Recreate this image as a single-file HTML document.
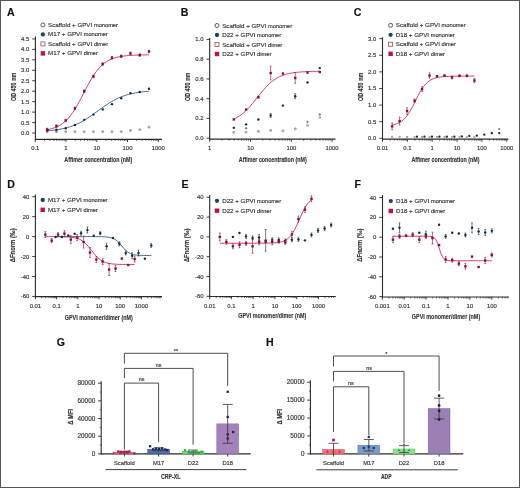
<!DOCTYPE html>
<html><head><meta charset="utf-8"><style>
html,body{margin:0;padding:0;background:#fff;}
body{width:520px;height:488px;overflow:hidden;font-family:"Liberation Sans", sans-serif;}
svg{display:block;will-change:transform;}
</style></head><body>
<svg width="520" height="488" viewBox="0 0 520 488" style="font-family:&quot;Liberation Sans&quot;, sans-serif">
<rect x="0" y="0" width="520" height="488" fill="#fff"/>
<line x1="35.40" y1="36.60" x2="35.40" y2="139.90" stroke="#2a2a2a" stroke-width="1.1"/>
<line x1="34.90" y1="139.40" x2="162.00" y2="139.40" stroke="#2a2a2a" stroke-width="1.2"/>
<line x1="32.20" y1="133.00" x2="35.40" y2="133.00" stroke="#2a2a2a" stroke-width="0.9"/>
<text x="29.20" y="135.00" font-size="5.9" text-anchor="end" font-weight="normal" fill="#333" stroke="#333" stroke-width="0.15" >0.0</text>
<line x1="32.20" y1="122.55" x2="35.40" y2="122.55" stroke="#2a2a2a" stroke-width="0.9"/>
<text x="29.20" y="124.55" font-size="5.9" text-anchor="end" font-weight="normal" fill="#333" stroke="#333" stroke-width="0.15" >0.5</text>
<line x1="32.20" y1="112.10" x2="35.40" y2="112.10" stroke="#2a2a2a" stroke-width="0.9"/>
<text x="29.20" y="114.10" font-size="5.9" text-anchor="end" font-weight="normal" fill="#333" stroke="#333" stroke-width="0.15" >1.0</text>
<line x1="32.20" y1="101.65" x2="35.40" y2="101.65" stroke="#2a2a2a" stroke-width="0.9"/>
<text x="29.20" y="103.65" font-size="5.9" text-anchor="end" font-weight="normal" fill="#333" stroke="#333" stroke-width="0.15" >1.5</text>
<line x1="32.20" y1="91.20" x2="35.40" y2="91.20" stroke="#2a2a2a" stroke-width="0.9"/>
<text x="29.20" y="93.20" font-size="5.9" text-anchor="end" font-weight="normal" fill="#333" stroke="#333" stroke-width="0.15" >2.0</text>
<line x1="32.20" y1="80.75" x2="35.40" y2="80.75" stroke="#2a2a2a" stroke-width="0.9"/>
<text x="29.20" y="82.75" font-size="5.9" text-anchor="end" font-weight="normal" fill="#333" stroke="#333" stroke-width="0.15" >2.5</text>
<line x1="32.20" y1="70.30" x2="35.40" y2="70.30" stroke="#2a2a2a" stroke-width="0.9"/>
<text x="29.20" y="72.30" font-size="5.9" text-anchor="end" font-weight="normal" fill="#333" stroke="#333" stroke-width="0.15" >3.0</text>
<line x1="32.20" y1="59.85" x2="35.40" y2="59.85" stroke="#2a2a2a" stroke-width="0.9"/>
<text x="29.20" y="61.85" font-size="5.9" text-anchor="end" font-weight="normal" fill="#333" stroke="#333" stroke-width="0.15" >3.5</text>
<line x1="32.20" y1="49.40" x2="35.40" y2="49.40" stroke="#2a2a2a" stroke-width="0.9"/>
<text x="29.20" y="51.40" font-size="5.9" text-anchor="end" font-weight="normal" fill="#333" stroke="#333" stroke-width="0.15" >4.0</text>
<line x1="32.20" y1="38.95" x2="35.40" y2="38.95" stroke="#2a2a2a" stroke-width="0.9"/>
<text x="29.20" y="40.95" font-size="5.9" text-anchor="end" font-weight="normal" fill="#333" stroke="#333" stroke-width="0.15" >4.5</text>
<line x1="35.25" y1="139.40" x2="35.25" y2="142.00" stroke="#2a2a2a" stroke-width="0.9"/>
<text x="35.25" y="150.30" font-size="5.9" text-anchor="middle" font-weight="normal" fill="#333" stroke="#333" stroke-width="0.15" >0.1</text>
<line x1="66.00" y1="139.40" x2="66.00" y2="142.00" stroke="#2a2a2a" stroke-width="0.9"/>
<text x="66.00" y="150.30" font-size="5.9" text-anchor="middle" font-weight="normal" fill="#333" stroke="#333" stroke-width="0.15" >1</text>
<line x1="96.75" y1="139.40" x2="96.75" y2="142.00" stroke="#2a2a2a" stroke-width="0.9"/>
<text x="96.75" y="150.30" font-size="5.9" text-anchor="middle" font-weight="normal" fill="#333" stroke="#333" stroke-width="0.15" >10</text>
<line x1="127.50" y1="139.40" x2="127.50" y2="142.00" stroke="#2a2a2a" stroke-width="0.9"/>
<text x="127.50" y="150.30" font-size="5.9" text-anchor="middle" font-weight="normal" fill="#333" stroke="#333" stroke-width="0.15" >100</text>
<line x1="158.25" y1="139.40" x2="158.25" y2="142.00" stroke="#2a2a2a" stroke-width="0.9"/>
<text x="158.25" y="150.30" font-size="5.9" text-anchor="middle" font-weight="normal" fill="#333" stroke="#333" stroke-width="0.15" >1000</text>
<line x1="44.51" y1="139.40" x2="44.51" y2="140.90" stroke="#2a2a2a" stroke-width="0.7"/>
<line x1="49.92" y1="139.40" x2="49.92" y2="140.90" stroke="#2a2a2a" stroke-width="0.7"/>
<line x1="53.76" y1="139.40" x2="53.76" y2="140.90" stroke="#2a2a2a" stroke-width="0.7"/>
<line x1="56.74" y1="139.40" x2="56.74" y2="140.90" stroke="#2a2a2a" stroke-width="0.7"/>
<line x1="59.18" y1="139.40" x2="59.18" y2="140.90" stroke="#2a2a2a" stroke-width="0.7"/>
<line x1="61.24" y1="139.40" x2="61.24" y2="140.90" stroke="#2a2a2a" stroke-width="0.7"/>
<line x1="63.02" y1="139.40" x2="63.02" y2="140.90" stroke="#2a2a2a" stroke-width="0.7"/>
<line x1="64.59" y1="139.40" x2="64.59" y2="140.90" stroke="#2a2a2a" stroke-width="0.7"/>
<line x1="75.26" y1="139.40" x2="75.26" y2="140.90" stroke="#2a2a2a" stroke-width="0.7"/>
<line x1="80.67" y1="139.40" x2="80.67" y2="140.90" stroke="#2a2a2a" stroke-width="0.7"/>
<line x1="84.51" y1="139.40" x2="84.51" y2="140.90" stroke="#2a2a2a" stroke-width="0.7"/>
<line x1="87.49" y1="139.40" x2="87.49" y2="140.90" stroke="#2a2a2a" stroke-width="0.7"/>
<line x1="89.93" y1="139.40" x2="89.93" y2="140.90" stroke="#2a2a2a" stroke-width="0.7"/>
<line x1="91.99" y1="139.40" x2="91.99" y2="140.90" stroke="#2a2a2a" stroke-width="0.7"/>
<line x1="93.77" y1="139.40" x2="93.77" y2="140.90" stroke="#2a2a2a" stroke-width="0.7"/>
<line x1="95.34" y1="139.40" x2="95.34" y2="140.90" stroke="#2a2a2a" stroke-width="0.7"/>
<line x1="106.01" y1="139.40" x2="106.01" y2="140.90" stroke="#2a2a2a" stroke-width="0.7"/>
<line x1="111.42" y1="139.40" x2="111.42" y2="140.90" stroke="#2a2a2a" stroke-width="0.7"/>
<line x1="115.26" y1="139.40" x2="115.26" y2="140.90" stroke="#2a2a2a" stroke-width="0.7"/>
<line x1="118.24" y1="139.40" x2="118.24" y2="140.90" stroke="#2a2a2a" stroke-width="0.7"/>
<line x1="120.68" y1="139.40" x2="120.68" y2="140.90" stroke="#2a2a2a" stroke-width="0.7"/>
<line x1="122.74" y1="139.40" x2="122.74" y2="140.90" stroke="#2a2a2a" stroke-width="0.7"/>
<line x1="124.52" y1="139.40" x2="124.52" y2="140.90" stroke="#2a2a2a" stroke-width="0.7"/>
<line x1="126.09" y1="139.40" x2="126.09" y2="140.90" stroke="#2a2a2a" stroke-width="0.7"/>
<line x1="136.76" y1="139.40" x2="136.76" y2="140.90" stroke="#2a2a2a" stroke-width="0.7"/>
<line x1="142.17" y1="139.40" x2="142.17" y2="140.90" stroke="#2a2a2a" stroke-width="0.7"/>
<line x1="146.01" y1="139.40" x2="146.01" y2="140.90" stroke="#2a2a2a" stroke-width="0.7"/>
<line x1="148.99" y1="139.40" x2="148.99" y2="140.90" stroke="#2a2a2a" stroke-width="0.7"/>
<line x1="151.43" y1="139.40" x2="151.43" y2="140.90" stroke="#2a2a2a" stroke-width="0.7"/>
<line x1="153.49" y1="139.40" x2="153.49" y2="140.90" stroke="#2a2a2a" stroke-width="0.7"/>
<line x1="155.27" y1="139.40" x2="155.27" y2="140.90" stroke="#2a2a2a" stroke-width="0.7"/>
<line x1="156.84" y1="139.40" x2="156.84" y2="140.90" stroke="#2a2a2a" stroke-width="0.7"/>
<circle cx="47.16" cy="131.75" r="1.40" fill="#bf97a6"/>
<circle cx="56.42" cy="131.75" r="1.40" fill="#bf97a6"/>
<circle cx="65.68" cy="131.75" r="1.40" fill="#bf97a6"/>
<circle cx="74.93" cy="131.75" r="1.40" fill="#bf97a6"/>
<circle cx="84.19" cy="131.75" r="1.40" fill="#bf97a6"/>
<circle cx="93.45" cy="131.75" r="1.40" fill="#bf97a6"/>
<circle cx="102.70" cy="131.75" r="1.40" fill="#bf97a6"/>
<circle cx="111.96" cy="131.75" r="1.40" fill="#bf97a6"/>
<circle cx="121.22" cy="131.54" r="1.40" fill="#bf97a6"/>
<circle cx="130.47" cy="130.49" r="1.40" fill="#bf97a6"/>
<circle cx="139.73" cy="129.66" r="1.40" fill="#bf97a6"/>
<circle cx="148.99" cy="127.15" r="1.40" fill="#bf97a6"/>
<circle cx="47.16" cy="131.33" r="0.60" fill="#fff" stroke="#3f5f82" stroke-width="1.0"/>
<circle cx="56.42" cy="130.91" r="0.60" fill="#fff" stroke="#3f5f82" stroke-width="1.0"/>
<path d="M47.16 129.74 L48.86 129.40 L50.56 129.00 L52.25 128.53 L53.95 127.99 L55.65 127.35 L57.34 126.60 L59.04 125.74 L60.74 124.74 L62.44 123.59 L64.13 122.28 L65.83 120.78 L67.53 119.08 L69.22 117.18 L70.92 115.06 L72.62 112.72 L74.32 110.18 L76.01 107.43 L77.71 104.50 L79.41 101.42 L81.10 98.22 L82.80 94.95 L84.50 91.66 L86.19 88.39 L87.89 85.18 L89.59 82.09 L91.29 79.15 L92.98 76.38 L94.68 73.82 L96.38 71.46 L98.07 69.33 L99.77 67.40 L101.47 65.69 L103.17 64.18 L104.86 62.84 L106.56 61.68 L108.26 60.67 L109.95 59.79 L111.65 59.04 L113.35 58.39 L115.04 57.84 L116.74 57.37 L118.44 56.96 L120.14 56.62 L121.83 56.33 L123.53 56.08 L125.23 55.87 L126.92 55.69 L128.62 55.54 L130.32 55.42 L132.02 55.31 L133.71 55.22 L135.41 55.14 L137.11 55.08 L138.80 55.02 L140.50 54.98 L142.20 54.94 L143.89 54.90 L145.59 54.88 L147.29 54.85 L148.99 54.83" fill="none" stroke="#c41f48" stroke-width="0.85"/>
<path d="M47.16 130.79 L48.86 130.65 L50.56 130.49 L52.25 130.31 L53.95 130.11 L55.65 129.89 L57.34 129.64 L59.04 129.37 L60.74 129.06 L62.44 128.72 L64.13 128.35 L65.83 127.93 L67.53 127.48 L69.22 126.98 L70.92 126.43 L72.62 125.83 L74.32 125.18 L76.01 124.47 L77.71 123.71 L79.41 122.89 L81.10 122.02 L82.80 121.08 L84.50 120.10 L86.19 119.05 L87.89 117.97 L89.59 116.83 L91.29 115.66 L92.98 114.46 L94.68 113.23 L96.38 111.99 L98.07 110.75 L99.77 109.50 L101.47 108.27 L103.17 107.05 L104.86 105.86 L106.56 104.71 L108.26 103.60 L109.95 102.53 L111.65 101.52 L113.35 100.56 L115.04 99.65 L116.74 98.80 L118.44 98.01 L120.14 97.28 L121.83 96.60 L123.53 95.98 L125.23 95.40 L126.92 94.88 L128.62 94.40 L130.32 93.97 L132.02 93.57 L133.71 93.22 L135.41 92.89 L137.11 92.60 L138.80 92.34 L140.50 92.11 L142.20 91.90 L143.89 91.71 L145.59 91.54 L147.29 91.39 L148.99 91.25" fill="none" stroke="#2a5070" stroke-width="0.85"/>
<circle cx="47.16" cy="130.35" r="1.20" fill="#142a42"/>
<circle cx="56.42" cy="129.66" r="1.20" fill="#142a42"/>
<circle cx="65.68" cy="128.19" r="1.20" fill="#142a42"/>
<circle cx="74.93" cy="125.06" r="1.20" fill="#142a42"/>
<circle cx="84.19" cy="119.83" r="1.20" fill="#142a42"/>
<circle cx="93.45" cy="114.61" r="1.20" fill="#142a42"/>
<circle cx="102.70" cy="109.38" r="1.20" fill="#142a42"/>
<circle cx="111.96" cy="104.16" r="1.20" fill="#142a42"/>
<circle cx="121.22" cy="98.31" r="1.20" fill="#142a42"/>
<circle cx="130.47" cy="93.08" r="1.20" fill="#142a42"/>
<circle cx="139.73" cy="92.04" r="1.20" fill="#142a42"/>
<circle cx="148.99" cy="88.69" r="1.20" fill="#142a42"/>
<line x1="47.16" y1="130.70" x2="47.16" y2="128.19" stroke="#8c0f32" stroke-width="0.6"/>
<line x1="46.26" y1="128.19" x2="48.06" y2="128.19" stroke="#8c0f32" stroke-width="0.6"/>
<line x1="46.26" y1="130.70" x2="48.06" y2="130.70" stroke="#8c0f32" stroke-width="0.6"/>
<rect x="45.96" y="128.25" width="2.40" height="2.40" fill="#8c0f32"/>
<line x1="56.42" y1="127.36" x2="56.42" y2="124.85" stroke="#8c0f32" stroke-width="0.6"/>
<line x1="55.52" y1="124.85" x2="57.32" y2="124.85" stroke="#8c0f32" stroke-width="0.6"/>
<line x1="55.52" y1="127.36" x2="57.32" y2="127.36" stroke="#8c0f32" stroke-width="0.6"/>
<rect x="55.22" y="124.90" width="2.40" height="2.40" fill="#8c0f32"/>
<line x1="65.68" y1="121.71" x2="65.68" y2="119.21" stroke="#8c0f32" stroke-width="0.6"/>
<line x1="64.78" y1="119.21" x2="66.58" y2="119.21" stroke="#8c0f32" stroke-width="0.6"/>
<line x1="64.78" y1="121.71" x2="66.58" y2="121.71" stroke="#8c0f32" stroke-width="0.6"/>
<rect x="64.48" y="119.26" width="2.40" height="2.40" fill="#8c0f32"/>
<line x1="74.93" y1="109.59" x2="74.93" y2="107.08" stroke="#8c0f32" stroke-width="0.6"/>
<line x1="74.03" y1="107.08" x2="75.83" y2="107.08" stroke="#8c0f32" stroke-width="0.6"/>
<line x1="74.03" y1="109.59" x2="75.83" y2="109.59" stroke="#8c0f32" stroke-width="0.6"/>
<rect x="73.73" y="107.14" width="2.40" height="2.40" fill="#8c0f32"/>
<line x1="84.19" y1="92.45" x2="84.19" y2="89.95" stroke="#8c0f32" stroke-width="0.6"/>
<line x1="83.29" y1="89.95" x2="85.09" y2="89.95" stroke="#8c0f32" stroke-width="0.6"/>
<line x1="83.29" y1="92.45" x2="85.09" y2="92.45" stroke="#8c0f32" stroke-width="0.6"/>
<rect x="82.99" y="90.00" width="2.40" height="2.40" fill="#8c0f32"/>
<line x1="93.45" y1="77.62" x2="93.45" y2="75.11" stroke="#8c0f32" stroke-width="0.6"/>
<line x1="92.55" y1="75.11" x2="94.35" y2="75.11" stroke="#8c0f32" stroke-width="0.6"/>
<line x1="92.55" y1="77.62" x2="94.35" y2="77.62" stroke="#8c0f32" stroke-width="0.6"/>
<rect x="92.25" y="75.16" width="2.40" height="2.40" fill="#8c0f32"/>
<line x1="102.70" y1="65.28" x2="102.70" y2="62.78" stroke="#8c0f32" stroke-width="0.6"/>
<line x1="101.80" y1="62.78" x2="103.60" y2="62.78" stroke="#8c0f32" stroke-width="0.6"/>
<line x1="101.80" y1="65.28" x2="103.60" y2="65.28" stroke="#8c0f32" stroke-width="0.6"/>
<rect x="101.50" y="62.83" width="2.40" height="2.40" fill="#8c0f32"/>
<line x1="111.96" y1="59.01" x2="111.96" y2="56.51" stroke="#8c0f32" stroke-width="0.6"/>
<line x1="111.06" y1="56.51" x2="112.86" y2="56.51" stroke="#8c0f32" stroke-width="0.6"/>
<line x1="111.06" y1="59.01" x2="112.86" y2="59.01" stroke="#8c0f32" stroke-width="0.6"/>
<rect x="110.76" y="56.56" width="2.40" height="2.40" fill="#8c0f32"/>
<line x1="121.22" y1="57.55" x2="121.22" y2="55.04" stroke="#8c0f32" stroke-width="0.6"/>
<line x1="120.32" y1="55.04" x2="122.12" y2="55.04" stroke="#8c0f32" stroke-width="0.6"/>
<line x1="120.32" y1="57.55" x2="122.12" y2="57.55" stroke="#8c0f32" stroke-width="0.6"/>
<rect x="120.02" y="55.10" width="2.40" height="2.40" fill="#8c0f32"/>
<line x1="130.47" y1="54.62" x2="130.47" y2="52.12" stroke="#8c0f32" stroke-width="0.6"/>
<line x1="129.57" y1="52.12" x2="131.37" y2="52.12" stroke="#8c0f32" stroke-width="0.6"/>
<line x1="129.57" y1="54.62" x2="131.37" y2="54.62" stroke="#8c0f32" stroke-width="0.6"/>
<rect x="129.27" y="52.17" width="2.40" height="2.40" fill="#8c0f32"/>
<line x1="139.73" y1="56.30" x2="139.73" y2="53.79" stroke="#8c0f32" stroke-width="0.6"/>
<line x1="138.83" y1="53.79" x2="140.63" y2="53.79" stroke="#8c0f32" stroke-width="0.6"/>
<line x1="138.83" y1="56.30" x2="140.63" y2="56.30" stroke="#8c0f32" stroke-width="0.6"/>
<rect x="138.53" y="53.84" width="2.40" height="2.40" fill="#8c0f32"/>
<line x1="148.99" y1="52.74" x2="148.99" y2="50.24" stroke="#8c0f32" stroke-width="0.6"/>
<line x1="148.09" y1="50.24" x2="149.89" y2="50.24" stroke="#8c0f32" stroke-width="0.6"/>
<line x1="148.09" y1="52.74" x2="149.89" y2="52.74" stroke="#8c0f32" stroke-width="0.6"/>
<rect x="147.79" y="50.29" width="2.40" height="2.40" fill="#8c0f32"/>
<circle cx="42.90" cy="24.90" r="2.00" fill="#fff" stroke="#3f5f82" stroke-width="1.0"/>
<text x="48.10" y="26.90" font-size="6.2" fill="#333" stroke="#333" stroke-width="0.15">Scaffold + GPVI <tspan font-size="5.7">monomer</tspan></text>
<circle cx="42.90" cy="34.40" r="2.15" fill="#1d4266"/>
<text x="48.10" y="36.40" font-size="6.2" fill="#333" stroke="#333" stroke-width="0.15">M17 + GPVI <tspan font-size="5.7">monomer</tspan></text>
<rect x="40.90" y="41.90" width="4.00" height="4.00" fill="#fff" stroke="#a85c66" stroke-width="0.9"/>
<text x="48.10" y="45.90" font-size="6.2" fill="#333" stroke="#333" stroke-width="0.15">Scaffold + GPVI <tspan font-size="5.7">dimer</tspan></text>
<rect x="40.70" y="51.20" width="4.40" height="4.40" fill="#c4103c"/>
<text x="48.10" y="55.40" font-size="6.2" fill="#333" stroke="#333" stroke-width="0.15">M17 + GPVI <tspan font-size="5.7">dimer</tspan></text>
<text x="6.90" y="15.60" font-size="10.6" text-anchor="start" font-weight="bold" fill="#111" stroke="#111" stroke-width="0.15" >A</text>
<text x="64.30" y="162.00" font-size="7.7" text-anchor="start" font-weight="bold" fill="#333" stroke="#333" stroke-width="0.15" textLength="68" lengthAdjust="spacingAndGlyphs" >Affimer concentration (nM)</text>
<text transform="translate(15.90,86.90) rotate(-90)" x="0" y="0" font-size="7.9" text-anchor="middle" font-weight="bold" fill="#333" stroke="#333" stroke-width="0.15" textLength="28.4" lengthAdjust="spacingAndGlyphs">OD 450 nm</text>
<line x1="209.70" y1="38.00" x2="209.70" y2="139.70" stroke="#2a2a2a" stroke-width="1.1"/>
<line x1="209.20" y1="139.20" x2="335.50" y2="139.20" stroke="#2a2a2a" stroke-width="1.2"/>
<line x1="206.50" y1="138.20" x2="209.70" y2="138.20" stroke="#2a2a2a" stroke-width="0.9"/>
<text x="203.50" y="140.20" font-size="5.9" text-anchor="end" font-weight="normal" fill="#333" stroke="#333" stroke-width="0.15" >0.0</text>
<line x1="206.50" y1="118.45" x2="209.70" y2="118.45" stroke="#2a2a2a" stroke-width="0.9"/>
<text x="203.50" y="120.45" font-size="5.9" text-anchor="end" font-weight="normal" fill="#333" stroke="#333" stroke-width="0.15" >0.2</text>
<line x1="206.50" y1="98.70" x2="209.70" y2="98.70" stroke="#2a2a2a" stroke-width="0.9"/>
<text x="203.50" y="100.70" font-size="5.9" text-anchor="end" font-weight="normal" fill="#333" stroke="#333" stroke-width="0.15" >0.4</text>
<line x1="206.50" y1="78.95" x2="209.70" y2="78.95" stroke="#2a2a2a" stroke-width="0.9"/>
<text x="203.50" y="80.95" font-size="5.9" text-anchor="end" font-weight="normal" fill="#333" stroke="#333" stroke-width="0.15" >0.6</text>
<line x1="206.50" y1="59.20" x2="209.70" y2="59.20" stroke="#2a2a2a" stroke-width="0.9"/>
<text x="203.50" y="61.20" font-size="5.9" text-anchor="end" font-weight="normal" fill="#333" stroke="#333" stroke-width="0.15" >0.8</text>
<line x1="206.50" y1="39.45" x2="209.70" y2="39.45" stroke="#2a2a2a" stroke-width="0.9"/>
<text x="203.50" y="41.45" font-size="5.9" text-anchor="end" font-weight="normal" fill="#333" stroke="#333" stroke-width="0.15" >1.0</text>
<line x1="209.70" y1="139.20" x2="209.70" y2="141.80" stroke="#2a2a2a" stroke-width="0.9"/>
<text x="209.70" y="150.30" font-size="5.9" text-anchor="middle" font-weight="normal" fill="#333" stroke="#333" stroke-width="0.15" >1</text>
<line x1="250.50" y1="139.20" x2="250.50" y2="141.80" stroke="#2a2a2a" stroke-width="0.9"/>
<text x="250.50" y="150.30" font-size="5.9" text-anchor="middle" font-weight="normal" fill="#333" stroke="#333" stroke-width="0.15" >10</text>
<line x1="291.30" y1="139.20" x2="291.30" y2="141.80" stroke="#2a2a2a" stroke-width="0.9"/>
<text x="291.30" y="150.30" font-size="5.9" text-anchor="middle" font-weight="normal" fill="#333" stroke="#333" stroke-width="0.15" >100</text>
<line x1="332.10" y1="139.20" x2="332.10" y2="141.80" stroke="#2a2a2a" stroke-width="0.9"/>
<text x="332.10" y="150.30" font-size="5.9" text-anchor="middle" font-weight="normal" fill="#333" stroke="#333" stroke-width="0.15" >1000</text>
<line x1="221.98" y1="139.20" x2="221.98" y2="140.70" stroke="#2a2a2a" stroke-width="0.7"/>
<line x1="229.17" y1="139.20" x2="229.17" y2="140.70" stroke="#2a2a2a" stroke-width="0.7"/>
<line x1="234.26" y1="139.20" x2="234.26" y2="140.70" stroke="#2a2a2a" stroke-width="0.7"/>
<line x1="238.22" y1="139.20" x2="238.22" y2="140.70" stroke="#2a2a2a" stroke-width="0.7"/>
<line x1="241.45" y1="139.20" x2="241.45" y2="140.70" stroke="#2a2a2a" stroke-width="0.7"/>
<line x1="244.18" y1="139.20" x2="244.18" y2="140.70" stroke="#2a2a2a" stroke-width="0.7"/>
<line x1="246.55" y1="139.20" x2="246.55" y2="140.70" stroke="#2a2a2a" stroke-width="0.7"/>
<line x1="248.63" y1="139.20" x2="248.63" y2="140.70" stroke="#2a2a2a" stroke-width="0.7"/>
<line x1="262.78" y1="139.20" x2="262.78" y2="140.70" stroke="#2a2a2a" stroke-width="0.7"/>
<line x1="269.97" y1="139.20" x2="269.97" y2="140.70" stroke="#2a2a2a" stroke-width="0.7"/>
<line x1="275.06" y1="139.20" x2="275.06" y2="140.70" stroke="#2a2a2a" stroke-width="0.7"/>
<line x1="279.02" y1="139.20" x2="279.02" y2="140.70" stroke="#2a2a2a" stroke-width="0.7"/>
<line x1="282.25" y1="139.20" x2="282.25" y2="140.70" stroke="#2a2a2a" stroke-width="0.7"/>
<line x1="284.98" y1="139.20" x2="284.98" y2="140.70" stroke="#2a2a2a" stroke-width="0.7"/>
<line x1="287.35" y1="139.20" x2="287.35" y2="140.70" stroke="#2a2a2a" stroke-width="0.7"/>
<line x1="289.43" y1="139.20" x2="289.43" y2="140.70" stroke="#2a2a2a" stroke-width="0.7"/>
<line x1="303.58" y1="139.20" x2="303.58" y2="140.70" stroke="#2a2a2a" stroke-width="0.7"/>
<line x1="310.77" y1="139.20" x2="310.77" y2="140.70" stroke="#2a2a2a" stroke-width="0.7"/>
<line x1="315.86" y1="139.20" x2="315.86" y2="140.70" stroke="#2a2a2a" stroke-width="0.7"/>
<line x1="319.82" y1="139.20" x2="319.82" y2="140.70" stroke="#2a2a2a" stroke-width="0.7"/>
<line x1="323.05" y1="139.20" x2="323.05" y2="140.70" stroke="#2a2a2a" stroke-width="0.7"/>
<line x1="325.78" y1="139.20" x2="325.78" y2="140.70" stroke="#2a2a2a" stroke-width="0.7"/>
<line x1="328.15" y1="139.20" x2="328.15" y2="140.70" stroke="#2a2a2a" stroke-width="0.7"/>
<line x1="330.23" y1="139.20" x2="330.23" y2="140.70" stroke="#2a2a2a" stroke-width="0.7"/>
<circle cx="233.82" cy="132.27" r="0.70" fill="#fff" stroke="#3f5f82" stroke-width="1.0"/>
<circle cx="246.10" cy="128.32" r="0.70" fill="#fff" stroke="#3f5f82" stroke-width="1.0"/>
<circle cx="258.38" cy="131.29" r="0.70" fill="#fff" stroke="#3f5f82" stroke-width="1.0"/>
<circle cx="270.66" cy="130.30" r="0.70" fill="#fff" stroke="#3f5f82" stroke-width="1.0"/>
<circle cx="282.94" cy="130.89" r="0.70" fill="#fff" stroke="#3f5f82" stroke-width="1.0"/>
<circle cx="295.23" cy="128.92" r="0.70" fill="#fff" stroke="#3f5f82" stroke-width="1.0"/>
<circle cx="307.51" cy="121.91" r="0.70" fill="#fff" stroke="#3f5f82" stroke-width="1.0"/>
<circle cx="319.79" cy="114.50" r="0.70" fill="#fff" stroke="#3f5f82" stroke-width="1.0"/>
<rect x="233.07" y="131.52" width="1.50" height="1.50" fill="#fff" stroke="#bf97a6" stroke-width="0.9"/>
<rect x="245.35" y="131.52" width="1.50" height="1.50" fill="#fff" stroke="#bf97a6" stroke-width="0.9"/>
<rect x="257.63" y="130.73" width="1.50" height="1.50" fill="#fff" stroke="#bf97a6" stroke-width="0.9"/>
<rect x="269.91" y="129.75" width="1.50" height="1.50" fill="#fff" stroke="#bf97a6" stroke-width="0.9"/>
<rect x="282.19" y="130.14" width="1.50" height="1.50" fill="#fff" stroke="#bf97a6" stroke-width="0.9"/>
<rect x="294.48" y="128.17" width="1.50" height="1.50" fill="#fff" stroke="#bf97a6" stroke-width="0.9"/>
<rect x="306.76" y="124.61" width="1.50" height="1.50" fill="#fff" stroke="#bf97a6" stroke-width="0.9"/>
<rect x="319.04" y="116.71" width="1.50" height="1.50" fill="#fff" stroke="#bf97a6" stroke-width="0.9"/>
<path d="M233.82 119.07 L235.25 118.39 L236.68 117.64 L238.11 116.80 L239.55 115.88 L240.98 114.87 L242.41 113.76 L243.85 112.56 L245.28 111.26 L246.71 109.88 L248.14 108.40 L249.58 106.84 L251.01 105.20 L252.44 103.50 L253.88 101.74 L255.31 99.96 L256.74 98.15 L258.17 96.33 L259.61 94.53 L261.04 92.76 L262.47 91.03 L263.91 89.36 L265.34 87.76 L266.77 86.24 L268.21 84.81 L269.64 83.47 L271.07 82.23 L272.50 81.07 L273.94 80.02 L275.37 79.05 L276.80 78.18 L278.24 77.39 L279.67 76.67 L281.10 76.03 L282.53 75.46 L283.97 74.95 L285.40 74.49 L286.83 74.09 L288.27 73.73 L289.70 73.42 L291.13 73.14 L292.56 72.89 L294.00 72.68 L295.43 72.48 L296.86 72.32 L298.30 72.17 L299.73 72.04 L301.16 71.93 L302.59 71.83 L304.03 71.75 L305.46 71.67 L306.89 71.60 L308.33 71.55 L309.76 71.50 L311.19 71.45 L312.63 71.41 L314.06 71.38 L315.49 71.35 L316.92 71.32 L318.36 71.30 L319.79 71.28" fill="none" stroke="#c41f48" stroke-width="0.85"/>
<circle cx="233.82" cy="127.83" r="1.20" fill="#142a42"/>
<circle cx="246.10" cy="124.37" r="1.20" fill="#142a42"/>
<circle cx="258.38" cy="119.44" r="1.20" fill="#142a42"/>
<line x1="270.66" y1="117.46" x2="270.66" y2="113.51" stroke="#142a42" stroke-width="0.6"/>
<line x1="269.76" y1="113.51" x2="271.56" y2="113.51" stroke="#142a42" stroke-width="0.6"/>
<line x1="269.76" y1="117.46" x2="271.56" y2="117.46" stroke="#142a42" stroke-width="0.6"/>
<circle cx="270.66" cy="115.49" r="1.20" fill="#142a42"/>
<circle cx="282.94" cy="105.61" r="1.20" fill="#142a42"/>
<line x1="295.23" y1="98.70" x2="295.23" y2="93.76" stroke="#142a42" stroke-width="0.6"/>
<line x1="294.33" y1="93.76" x2="296.13" y2="93.76" stroke="#142a42" stroke-width="0.6"/>
<line x1="294.33" y1="98.70" x2="296.13" y2="98.70" stroke="#142a42" stroke-width="0.6"/>
<circle cx="295.23" cy="96.23" r="1.20" fill="#142a42"/>
<circle cx="307.51" cy="82.41" r="1.20" fill="#142a42"/>
<circle cx="319.79" cy="68.09" r="1.20" fill="#142a42"/>
<rect x="232.62" y="118.24" width="2.40" height="2.40" fill="#8c0f32"/>
<rect x="244.90" y="108.36" width="2.40" height="2.40" fill="#8c0f32"/>
<line x1="258.38" y1="98.21" x2="258.38" y2="96.23" stroke="#8c0f32" stroke-width="0.6"/>
<line x1="257.48" y1="96.23" x2="259.28" y2="96.23" stroke="#8c0f32" stroke-width="0.6"/>
<line x1="257.48" y1="98.21" x2="259.28" y2="98.21" stroke="#8c0f32" stroke-width="0.6"/>
<rect x="257.18" y="96.02" width="2.40" height="2.40" fill="#8c0f32"/>
<line x1="270.66" y1="79.94" x2="270.66" y2="66.11" stroke="#8c0f32" stroke-width="0.6"/>
<line x1="269.76" y1="66.11" x2="271.56" y2="66.11" stroke="#8c0f32" stroke-width="0.6"/>
<line x1="269.76" y1="79.94" x2="271.56" y2="79.94" stroke="#8c0f32" stroke-width="0.6"/>
<rect x="269.46" y="71.82" width="2.40" height="2.40" fill="#8c0f32"/>
<rect x="281.74" y="72.32" width="2.40" height="2.40" fill="#8c0f32"/>
<line x1="295.23" y1="83.39" x2="295.23" y2="72.53" stroke="#8c0f32" stroke-width="0.6"/>
<line x1="294.33" y1="72.53" x2="296.13" y2="72.53" stroke="#8c0f32" stroke-width="0.6"/>
<line x1="294.33" y1="83.39" x2="296.13" y2="83.39" stroke="#8c0f32" stroke-width="0.6"/>
<rect x="294.03" y="76.76" width="2.40" height="2.40" fill="#8c0f32"/>
<rect x="306.31" y="71.33" width="2.40" height="2.40" fill="#8c0f32"/>
<rect x="318.59" y="70.84" width="2.40" height="2.40" fill="#8c0f32"/>
<circle cx="217.00" cy="25.50" r="2.00" fill="#fff" stroke="#3f5f82" stroke-width="1.0"/>
<text x="222.20" y="27.50" font-size="6.2" fill="#333" stroke="#333" stroke-width="0.15">Scaffold + GPVI <tspan font-size="5.7">monomer</tspan></text>
<circle cx="217.00" cy="35.00" r="2.15" fill="#1d4266"/>
<text x="222.20" y="37.00" font-size="6.2" fill="#333" stroke="#333" stroke-width="0.15">D22 + GPVI <tspan font-size="5.7">monomer</tspan></text>
<rect x="215.00" y="42.50" width="4.00" height="4.00" fill="#fff" stroke="#a85c66" stroke-width="0.9"/>
<text x="222.20" y="46.50" font-size="6.2" fill="#333" stroke="#333" stroke-width="0.15">Scaffold + GPVI <tspan font-size="5.7">dimer</tspan></text>
<rect x="214.80" y="51.80" width="4.40" height="4.40" fill="#c4103c"/>
<text x="222.20" y="56.00" font-size="6.2" fill="#333" stroke="#333" stroke-width="0.15">D22 + GPVI <tspan font-size="5.7">dimer</tspan></text>
<text x="180.80" y="15.60" font-size="10.6" text-anchor="start" font-weight="bold" fill="#111" stroke="#111" stroke-width="0.15" >B</text>
<text x="238.80" y="162.00" font-size="7.7" text-anchor="start" font-weight="bold" fill="#333" stroke="#333" stroke-width="0.15" textLength="68" lengthAdjust="spacingAndGlyphs" >Affimer concentration (nM)</text>
<text transform="translate(190.20,86.90) rotate(-90)" x="0" y="0" font-size="7.9" text-anchor="middle" font-weight="bold" fill="#333" stroke="#333" stroke-width="0.15" textLength="28.4" lengthAdjust="spacingAndGlyphs">OD 450 nm</text>
<line x1="382.50" y1="37.20" x2="382.50" y2="139.70" stroke="#2a2a2a" stroke-width="1.1"/>
<line x1="382.00" y1="139.20" x2="508.40" y2="139.20" stroke="#2a2a2a" stroke-width="1.2"/>
<line x1="379.30" y1="138.30" x2="382.50" y2="138.30" stroke="#2a2a2a" stroke-width="0.9"/>
<text x="376.30" y="140.30" font-size="5.9" text-anchor="end" font-weight="normal" fill="#333" stroke="#333" stroke-width="0.15" >0.0</text>
<line x1="379.30" y1="121.69" x2="382.50" y2="121.69" stroke="#2a2a2a" stroke-width="0.9"/>
<text x="376.30" y="123.69" font-size="5.9" text-anchor="end" font-weight="normal" fill="#333" stroke="#333" stroke-width="0.15" >0.5</text>
<line x1="379.30" y1="105.08" x2="382.50" y2="105.08" stroke="#2a2a2a" stroke-width="0.9"/>
<text x="376.30" y="107.08" font-size="5.9" text-anchor="end" font-weight="normal" fill="#333" stroke="#333" stroke-width="0.15" >1.0</text>
<line x1="379.30" y1="88.47" x2="382.50" y2="88.47" stroke="#2a2a2a" stroke-width="0.9"/>
<text x="376.30" y="90.47" font-size="5.9" text-anchor="end" font-weight="normal" fill="#333" stroke="#333" stroke-width="0.15" >1.5</text>
<line x1="379.30" y1="71.86" x2="382.50" y2="71.86" stroke="#2a2a2a" stroke-width="0.9"/>
<text x="376.30" y="73.86" font-size="5.9" text-anchor="end" font-weight="normal" fill="#333" stroke="#333" stroke-width="0.15" >2.0</text>
<line x1="379.30" y1="55.25" x2="382.50" y2="55.25" stroke="#2a2a2a" stroke-width="0.9"/>
<text x="376.30" y="57.25" font-size="5.9" text-anchor="end" font-weight="normal" fill="#333" stroke="#333" stroke-width="0.15" >2.5</text>
<line x1="379.30" y1="38.64" x2="382.50" y2="38.64" stroke="#2a2a2a" stroke-width="0.9"/>
<text x="376.30" y="40.64" font-size="5.9" text-anchor="end" font-weight="normal" fill="#333" stroke="#333" stroke-width="0.15" >3.0</text>
<line x1="382.50" y1="139.20" x2="382.50" y2="141.80" stroke="#2a2a2a" stroke-width="0.9"/>
<text x="382.50" y="150.30" font-size="5.9" text-anchor="middle" font-weight="normal" fill="#333" stroke="#333" stroke-width="0.15" >0.01</text>
<line x1="407.35" y1="139.20" x2="407.35" y2="141.80" stroke="#2a2a2a" stroke-width="0.9"/>
<text x="407.35" y="150.30" font-size="5.9" text-anchor="middle" font-weight="normal" fill="#333" stroke="#333" stroke-width="0.15" >0.1</text>
<line x1="432.20" y1="139.20" x2="432.20" y2="141.80" stroke="#2a2a2a" stroke-width="0.9"/>
<text x="432.20" y="150.30" font-size="5.9" text-anchor="middle" font-weight="normal" fill="#333" stroke="#333" stroke-width="0.15" >1</text>
<line x1="457.05" y1="139.20" x2="457.05" y2="141.80" stroke="#2a2a2a" stroke-width="0.9"/>
<text x="457.05" y="150.30" font-size="5.9" text-anchor="middle" font-weight="normal" fill="#333" stroke="#333" stroke-width="0.15" >10</text>
<line x1="481.90" y1="139.20" x2="481.90" y2="141.80" stroke="#2a2a2a" stroke-width="0.9"/>
<text x="481.90" y="150.30" font-size="5.9" text-anchor="middle" font-weight="normal" fill="#333" stroke="#333" stroke-width="0.15" >100</text>
<line x1="506.75" y1="139.20" x2="506.75" y2="141.80" stroke="#2a2a2a" stroke-width="0.9"/>
<text x="506.75" y="150.30" font-size="5.9" text-anchor="middle" font-weight="normal" fill="#333" stroke="#333" stroke-width="0.15" >1000</text>
<line x1="389.98" y1="139.20" x2="389.98" y2="140.70" stroke="#2a2a2a" stroke-width="0.7"/>
<line x1="394.36" y1="139.20" x2="394.36" y2="140.70" stroke="#2a2a2a" stroke-width="0.7"/>
<line x1="397.46" y1="139.20" x2="397.46" y2="140.70" stroke="#2a2a2a" stroke-width="0.7"/>
<line x1="399.87" y1="139.20" x2="399.87" y2="140.70" stroke="#2a2a2a" stroke-width="0.7"/>
<line x1="401.84" y1="139.20" x2="401.84" y2="140.70" stroke="#2a2a2a" stroke-width="0.7"/>
<line x1="403.50" y1="139.20" x2="403.50" y2="140.70" stroke="#2a2a2a" stroke-width="0.7"/>
<line x1="404.94" y1="139.20" x2="404.94" y2="140.70" stroke="#2a2a2a" stroke-width="0.7"/>
<line x1="406.21" y1="139.20" x2="406.21" y2="140.70" stroke="#2a2a2a" stroke-width="0.7"/>
<line x1="414.83" y1="139.20" x2="414.83" y2="140.70" stroke="#2a2a2a" stroke-width="0.7"/>
<line x1="419.21" y1="139.20" x2="419.21" y2="140.70" stroke="#2a2a2a" stroke-width="0.7"/>
<line x1="422.31" y1="139.20" x2="422.31" y2="140.70" stroke="#2a2a2a" stroke-width="0.7"/>
<line x1="424.72" y1="139.20" x2="424.72" y2="140.70" stroke="#2a2a2a" stroke-width="0.7"/>
<line x1="426.69" y1="139.20" x2="426.69" y2="140.70" stroke="#2a2a2a" stroke-width="0.7"/>
<line x1="428.35" y1="139.20" x2="428.35" y2="140.70" stroke="#2a2a2a" stroke-width="0.7"/>
<line x1="429.79" y1="139.20" x2="429.79" y2="140.70" stroke="#2a2a2a" stroke-width="0.7"/>
<line x1="431.06" y1="139.20" x2="431.06" y2="140.70" stroke="#2a2a2a" stroke-width="0.7"/>
<line x1="439.68" y1="139.20" x2="439.68" y2="140.70" stroke="#2a2a2a" stroke-width="0.7"/>
<line x1="444.06" y1="139.20" x2="444.06" y2="140.70" stroke="#2a2a2a" stroke-width="0.7"/>
<line x1="447.16" y1="139.20" x2="447.16" y2="140.70" stroke="#2a2a2a" stroke-width="0.7"/>
<line x1="449.57" y1="139.20" x2="449.57" y2="140.70" stroke="#2a2a2a" stroke-width="0.7"/>
<line x1="451.54" y1="139.20" x2="451.54" y2="140.70" stroke="#2a2a2a" stroke-width="0.7"/>
<line x1="453.20" y1="139.20" x2="453.20" y2="140.70" stroke="#2a2a2a" stroke-width="0.7"/>
<line x1="454.64" y1="139.20" x2="454.64" y2="140.70" stroke="#2a2a2a" stroke-width="0.7"/>
<line x1="455.91" y1="139.20" x2="455.91" y2="140.70" stroke="#2a2a2a" stroke-width="0.7"/>
<line x1="464.53" y1="139.20" x2="464.53" y2="140.70" stroke="#2a2a2a" stroke-width="0.7"/>
<line x1="468.91" y1="139.20" x2="468.91" y2="140.70" stroke="#2a2a2a" stroke-width="0.7"/>
<line x1="472.01" y1="139.20" x2="472.01" y2="140.70" stroke="#2a2a2a" stroke-width="0.7"/>
<line x1="474.42" y1="139.20" x2="474.42" y2="140.70" stroke="#2a2a2a" stroke-width="0.7"/>
<line x1="476.39" y1="139.20" x2="476.39" y2="140.70" stroke="#2a2a2a" stroke-width="0.7"/>
<line x1="478.05" y1="139.20" x2="478.05" y2="140.70" stroke="#2a2a2a" stroke-width="0.7"/>
<line x1="479.49" y1="139.20" x2="479.49" y2="140.70" stroke="#2a2a2a" stroke-width="0.7"/>
<line x1="480.76" y1="139.20" x2="480.76" y2="140.70" stroke="#2a2a2a" stroke-width="0.7"/>
<line x1="489.38" y1="139.20" x2="489.38" y2="140.70" stroke="#2a2a2a" stroke-width="0.7"/>
<line x1="493.76" y1="139.20" x2="493.76" y2="140.70" stroke="#2a2a2a" stroke-width="0.7"/>
<line x1="496.86" y1="139.20" x2="496.86" y2="140.70" stroke="#2a2a2a" stroke-width="0.7"/>
<line x1="499.27" y1="139.20" x2="499.27" y2="140.70" stroke="#2a2a2a" stroke-width="0.7"/>
<line x1="501.24" y1="139.20" x2="501.24" y2="140.70" stroke="#2a2a2a" stroke-width="0.7"/>
<line x1="502.90" y1="139.20" x2="502.90" y2="140.70" stroke="#2a2a2a" stroke-width="0.7"/>
<line x1="504.34" y1="139.20" x2="504.34" y2="140.70" stroke="#2a2a2a" stroke-width="0.7"/>
<line x1="505.61" y1="139.20" x2="505.61" y2="140.70" stroke="#2a2a2a" stroke-width="0.7"/>
<rect x="391.58" y="136.42" width="1.10" height="1.10" fill="#fff" stroke="#bf97a6" stroke-width="0.9"/>
<rect x="399.06" y="136.42" width="1.10" height="1.10" fill="#fff" stroke="#bf97a6" stroke-width="0.9"/>
<rect x="406.54" y="136.42" width="1.10" height="1.10" fill="#fff" stroke="#bf97a6" stroke-width="0.9"/>
<rect x="414.02" y="136.42" width="1.10" height="1.10" fill="#fff" stroke="#bf97a6" stroke-width="0.9"/>
<rect x="421.50" y="136.42" width="1.10" height="1.10" fill="#fff" stroke="#bf97a6" stroke-width="0.9"/>
<rect x="428.98" y="136.42" width="1.10" height="1.10" fill="#fff" stroke="#bf97a6" stroke-width="0.9"/>
<rect x="436.46" y="136.42" width="1.10" height="1.10" fill="#fff" stroke="#bf97a6" stroke-width="0.9"/>
<rect x="443.94" y="136.42" width="1.10" height="1.10" fill="#fff" stroke="#bf97a6" stroke-width="0.9"/>
<rect x="451.42" y="136.42" width="1.10" height="1.10" fill="#fff" stroke="#bf97a6" stroke-width="0.9"/>
<rect x="458.90" y="136.42" width="1.10" height="1.10" fill="#fff" stroke="#bf97a6" stroke-width="0.9"/>
<rect x="466.38" y="136.42" width="1.10" height="1.10" fill="#fff" stroke="#bf97a6" stroke-width="0.9"/>
<rect x="473.86" y="136.42" width="1.10" height="1.10" fill="#fff" stroke="#bf97a6" stroke-width="0.9"/>
<circle cx="499.26" cy="129.00" r="0.60" fill="#fff" stroke="#3f5f82" stroke-width="1.0"/>
<circle cx="491.78" cy="132.65" r="0.60" fill="#fff" stroke="#3f5f82" stroke-width="1.0"/>
<path d="M392.13 124.88 L393.50 124.61 L394.87 124.27 L396.24 123.86 L397.61 123.35 L398.98 122.73 L400.36 121.98 L401.73 121.08 L403.10 120.00 L404.47 118.72 L405.84 117.22 L407.21 115.50 L408.58 113.53 L409.96 111.34 L411.33 108.93 L412.70 106.36 L414.07 103.66 L415.44 100.89 L416.81 98.13 L418.18 95.44 L419.56 92.88 L420.93 90.50 L422.30 88.34 L423.67 86.40 L425.04 84.70 L426.41 83.23 L427.78 81.98 L429.16 80.92 L430.53 80.04 L431.90 79.31 L433.27 78.70 L434.64 78.21 L436.01 77.80 L437.38 77.48 L438.76 77.21 L440.13 77.00 L441.50 76.82 L442.87 76.68 L444.24 76.57 L445.61 76.48 L446.98 76.41 L448.36 76.35 L449.73 76.30 L451.10 76.26 L452.47 76.23 L453.84 76.21 L455.21 76.19 L456.58 76.17 L457.96 76.16 L459.33 76.15 L460.70 76.14 L462.07 76.14 L463.44 76.13 L464.81 76.13 L466.18 76.13 L467.56 76.12 L468.93 76.12 L470.30 76.12 L471.67 76.12 L473.04 76.12 L474.41 76.12" fill="none" stroke="#c41f48" stroke-width="0.85"/>
<circle cx="416.98" cy="136.64" r="1.15" fill="#142a42"/>
<circle cx="424.46" cy="136.64" r="1.15" fill="#142a42"/>
<circle cx="431.94" cy="136.64" r="1.15" fill="#142a42"/>
<circle cx="439.42" cy="136.64" r="1.15" fill="#142a42"/>
<circle cx="446.90" cy="136.64" r="1.15" fill="#142a42"/>
<circle cx="454.38" cy="136.64" r="1.15" fill="#142a42"/>
<circle cx="461.86" cy="136.47" r="1.15" fill="#142a42"/>
<circle cx="469.34" cy="135.97" r="1.15" fill="#142a42"/>
<circle cx="476.82" cy="135.64" r="1.15" fill="#142a42"/>
<circle cx="484.30" cy="134.65" r="1.15" fill="#142a42"/>
<circle cx="491.78" cy="133.32" r="1.15" fill="#142a42"/>
<circle cx="499.26" cy="133.15" r="1.15" fill="#142a42"/>
<line x1="392.13" y1="129.66" x2="392.13" y2="123.02" stroke="#8c0f32" stroke-width="0.6"/>
<line x1="391.23" y1="123.02" x2="393.03" y2="123.02" stroke="#8c0f32" stroke-width="0.6"/>
<line x1="391.23" y1="129.66" x2="393.03" y2="129.66" stroke="#8c0f32" stroke-width="0.6"/>
<rect x="390.93" y="125.14" width="2.40" height="2.40" fill="#8c0f32"/>
<line x1="399.61" y1="125.01" x2="399.61" y2="117.04" stroke="#8c0f32" stroke-width="0.6"/>
<line x1="398.71" y1="117.04" x2="400.51" y2="117.04" stroke="#8c0f32" stroke-width="0.6"/>
<line x1="398.71" y1="125.01" x2="400.51" y2="125.01" stroke="#8c0f32" stroke-width="0.6"/>
<rect x="398.41" y="119.83" width="2.40" height="2.40" fill="#8c0f32"/>
<line x1="407.09" y1="114.38" x2="407.09" y2="107.74" stroke="#8c0f32" stroke-width="0.6"/>
<line x1="406.19" y1="107.74" x2="407.99" y2="107.74" stroke="#8c0f32" stroke-width="0.6"/>
<line x1="406.19" y1="114.38" x2="407.99" y2="114.38" stroke="#8c0f32" stroke-width="0.6"/>
<rect x="405.89" y="109.86" width="2.40" height="2.40" fill="#8c0f32"/>
<line x1="414.57" y1="102.42" x2="414.57" y2="99.10" stroke="#8c0f32" stroke-width="0.6"/>
<line x1="413.67" y1="99.10" x2="415.47" y2="99.10" stroke="#8c0f32" stroke-width="0.6"/>
<line x1="413.67" y1="102.42" x2="415.47" y2="102.42" stroke="#8c0f32" stroke-width="0.6"/>
<rect x="413.37" y="99.56" width="2.40" height="2.40" fill="#8c0f32"/>
<line x1="422.05" y1="91.46" x2="422.05" y2="86.81" stroke="#8c0f32" stroke-width="0.6"/>
<line x1="421.15" y1="86.81" x2="422.95" y2="86.81" stroke="#8c0f32" stroke-width="0.6"/>
<line x1="421.15" y1="91.46" x2="422.95" y2="91.46" stroke="#8c0f32" stroke-width="0.6"/>
<rect x="420.85" y="87.93" width="2.40" height="2.40" fill="#8c0f32"/>
<line x1="429.53" y1="78.17" x2="429.53" y2="72.86" stroke="#8c0f32" stroke-width="0.6"/>
<line x1="428.63" y1="72.86" x2="430.43" y2="72.86" stroke="#8c0f32" stroke-width="0.6"/>
<line x1="428.63" y1="78.17" x2="430.43" y2="78.17" stroke="#8c0f32" stroke-width="0.6"/>
<rect x="428.33" y="74.31" width="2.40" height="2.40" fill="#8c0f32"/>
<line x1="437.01" y1="76.84" x2="437.01" y2="75.51" stroke="#8c0f32" stroke-width="0.6"/>
<line x1="436.11" y1="75.51" x2="437.91" y2="75.51" stroke="#8c0f32" stroke-width="0.6"/>
<line x1="436.11" y1="76.84" x2="437.91" y2="76.84" stroke="#8c0f32" stroke-width="0.6"/>
<rect x="435.81" y="74.98" width="2.40" height="2.40" fill="#8c0f32"/>
<line x1="444.49" y1="76.18" x2="444.49" y2="74.85" stroke="#8c0f32" stroke-width="0.6"/>
<line x1="443.59" y1="74.85" x2="445.39" y2="74.85" stroke="#8c0f32" stroke-width="0.6"/>
<line x1="443.59" y1="76.18" x2="445.39" y2="76.18" stroke="#8c0f32" stroke-width="0.6"/>
<rect x="443.29" y="74.31" width="2.40" height="2.40" fill="#8c0f32"/>
<line x1="451.97" y1="78.84" x2="451.97" y2="76.18" stroke="#8c0f32" stroke-width="0.6"/>
<line x1="451.07" y1="76.18" x2="452.87" y2="76.18" stroke="#8c0f32" stroke-width="0.6"/>
<line x1="451.07" y1="78.84" x2="452.87" y2="78.84" stroke="#8c0f32" stroke-width="0.6"/>
<rect x="450.77" y="76.31" width="2.40" height="2.40" fill="#8c0f32"/>
<line x1="459.45" y1="76.84" x2="459.45" y2="74.85" stroke="#8c0f32" stroke-width="0.6"/>
<line x1="458.55" y1="74.85" x2="460.35" y2="74.85" stroke="#8c0f32" stroke-width="0.6"/>
<line x1="458.55" y1="76.84" x2="460.35" y2="76.84" stroke="#8c0f32" stroke-width="0.6"/>
<rect x="458.25" y="74.65" width="2.40" height="2.40" fill="#8c0f32"/>
<line x1="466.93" y1="76.84" x2="466.93" y2="74.85" stroke="#8c0f32" stroke-width="0.6"/>
<line x1="466.03" y1="74.85" x2="467.83" y2="74.85" stroke="#8c0f32" stroke-width="0.6"/>
<line x1="466.03" y1="76.84" x2="467.83" y2="76.84" stroke="#8c0f32" stroke-width="0.6"/>
<rect x="465.73" y="74.65" width="2.40" height="2.40" fill="#8c0f32"/>
<line x1="474.41" y1="82.49" x2="474.41" y2="78.50" stroke="#8c0f32" stroke-width="0.6"/>
<line x1="473.51" y1="78.50" x2="475.31" y2="78.50" stroke="#8c0f32" stroke-width="0.6"/>
<line x1="473.51" y1="82.49" x2="475.31" y2="82.49" stroke="#8c0f32" stroke-width="0.6"/>
<rect x="473.21" y="79.30" width="2.40" height="2.40" fill="#8c0f32"/>
<circle cx="390.60" cy="25.30" r="2.00" fill="#fff" stroke="#3f5f82" stroke-width="1.0"/>
<text x="395.80" y="27.30" font-size="6.2" fill="#333" stroke="#333" stroke-width="0.15">Scaffold + GPVI <tspan font-size="5.7">monomer</tspan></text>
<circle cx="390.60" cy="34.80" r="2.15" fill="#1d4266"/>
<text x="395.80" y="36.80" font-size="6.2" fill="#333" stroke="#333" stroke-width="0.15">D18 + GPVI <tspan font-size="5.7">monomer</tspan></text>
<rect x="388.60" y="42.30" width="4.00" height="4.00" fill="#fff" stroke="#a85c66" stroke-width="0.9"/>
<text x="395.80" y="46.30" font-size="6.2" fill="#333" stroke="#333" stroke-width="0.15">Scaffold + GPVI <tspan font-size="5.7">dimer</tspan></text>
<rect x="388.40" y="51.60" width="4.40" height="4.40" fill="#c4103c"/>
<text x="395.80" y="55.80" font-size="6.2" fill="#333" stroke="#333" stroke-width="0.15">D18 + GPVI <tspan font-size="5.7">dimer</tspan></text>
<text x="353.80" y="15.60" font-size="10.6" text-anchor="start" font-weight="bold" fill="#111" stroke="#111" stroke-width="0.15" >C</text>
<text x="411.50" y="162.00" font-size="7.7" text-anchor="start" font-weight="bold" fill="#333" stroke="#333" stroke-width="0.15" textLength="68" lengthAdjust="spacingAndGlyphs" >Affimer concentration (nM)</text>
<text transform="translate(363.40,86.90) rotate(-90)" x="0" y="0" font-size="7.9" text-anchor="middle" font-weight="bold" fill="#333" stroke="#333" stroke-width="0.15" textLength="28.4" lengthAdjust="spacingAndGlyphs">OD 450 nm</text>
<line x1="35.40" y1="194.40" x2="35.40" y2="297.20" stroke="#2a2a2a" stroke-width="1.1"/>
<line x1="34.90" y1="296.70" x2="162.00" y2="296.70" stroke="#2a2a2a" stroke-width="1.2"/>
<line x1="32.20" y1="296.45" x2="35.40" y2="296.45" stroke="#2a2a2a" stroke-width="0.9"/>
<text x="29.20" y="298.45" font-size="5.9" text-anchor="end" font-weight="normal" fill="#333" stroke="#333" stroke-width="0.15" >-60</text>
<line x1="32.20" y1="276.50" x2="35.40" y2="276.50" stroke="#2a2a2a" stroke-width="0.9"/>
<text x="29.20" y="278.50" font-size="5.9" text-anchor="end" font-weight="normal" fill="#333" stroke="#333" stroke-width="0.15" >-40</text>
<line x1="32.20" y1="256.55" x2="35.40" y2="256.55" stroke="#2a2a2a" stroke-width="0.9"/>
<text x="29.20" y="258.55" font-size="5.9" text-anchor="end" font-weight="normal" fill="#333" stroke="#333" stroke-width="0.15" >-20</text>
<line x1="32.20" y1="236.60" x2="35.40" y2="236.60" stroke="#2a2a2a" stroke-width="0.9"/>
<text x="29.20" y="238.60" font-size="5.9" text-anchor="end" font-weight="normal" fill="#333" stroke="#333" stroke-width="0.15" >0</text>
<line x1="32.20" y1="216.65" x2="35.40" y2="216.65" stroke="#2a2a2a" stroke-width="0.9"/>
<text x="29.20" y="218.65" font-size="5.9" text-anchor="end" font-weight="normal" fill="#333" stroke="#333" stroke-width="0.15" >20</text>
<line x1="32.20" y1="196.70" x2="35.40" y2="196.70" stroke="#2a2a2a" stroke-width="0.9"/>
<text x="29.20" y="198.70" font-size="5.9" text-anchor="end" font-weight="normal" fill="#333" stroke="#333" stroke-width="0.15" >40</text>
<line x1="35.40" y1="296.70" x2="35.40" y2="299.30" stroke="#2a2a2a" stroke-width="0.9"/>
<text x="35.40" y="307.90" font-size="5.9" text-anchor="middle" font-weight="normal" fill="#333" stroke="#333" stroke-width="0.15" >0.01</text>
<line x1="56.60" y1="296.70" x2="56.60" y2="299.30" stroke="#2a2a2a" stroke-width="0.9"/>
<text x="56.60" y="307.90" font-size="5.9" text-anchor="middle" font-weight="normal" fill="#333" stroke="#333" stroke-width="0.15" >0.1</text>
<line x1="77.80" y1="296.70" x2="77.80" y2="299.30" stroke="#2a2a2a" stroke-width="0.9"/>
<text x="77.80" y="307.90" font-size="5.9" text-anchor="middle" font-weight="normal" fill="#333" stroke="#333" stroke-width="0.15" >1</text>
<line x1="99.00" y1="296.70" x2="99.00" y2="299.30" stroke="#2a2a2a" stroke-width="0.9"/>
<text x="99.00" y="307.90" font-size="5.9" text-anchor="middle" font-weight="normal" fill="#333" stroke="#333" stroke-width="0.15" >10</text>
<line x1="120.20" y1="296.70" x2="120.20" y2="299.30" stroke="#2a2a2a" stroke-width="0.9"/>
<text x="120.20" y="307.90" font-size="5.9" text-anchor="middle" font-weight="normal" fill="#333" stroke="#333" stroke-width="0.15" >100</text>
<line x1="141.40" y1="296.70" x2="141.40" y2="299.30" stroke="#2a2a2a" stroke-width="0.9"/>
<text x="141.40" y="307.90" font-size="5.9" text-anchor="middle" font-weight="normal" fill="#333" stroke="#333" stroke-width="0.15" >1000</text>
<line x1="41.78" y1="296.70" x2="41.78" y2="298.20" stroke="#2a2a2a" stroke-width="0.7"/>
<line x1="45.51" y1="296.70" x2="45.51" y2="298.20" stroke="#2a2a2a" stroke-width="0.7"/>
<line x1="48.16" y1="296.70" x2="48.16" y2="298.20" stroke="#2a2a2a" stroke-width="0.7"/>
<line x1="50.22" y1="296.70" x2="50.22" y2="298.20" stroke="#2a2a2a" stroke-width="0.7"/>
<line x1="51.90" y1="296.70" x2="51.90" y2="298.20" stroke="#2a2a2a" stroke-width="0.7"/>
<line x1="53.32" y1="296.70" x2="53.32" y2="298.20" stroke="#2a2a2a" stroke-width="0.7"/>
<line x1="54.55" y1="296.70" x2="54.55" y2="298.20" stroke="#2a2a2a" stroke-width="0.7"/>
<line x1="55.63" y1="296.70" x2="55.63" y2="298.20" stroke="#2a2a2a" stroke-width="0.7"/>
<line x1="62.98" y1="296.70" x2="62.98" y2="298.20" stroke="#2a2a2a" stroke-width="0.7"/>
<line x1="66.71" y1="296.70" x2="66.71" y2="298.20" stroke="#2a2a2a" stroke-width="0.7"/>
<line x1="69.36" y1="296.70" x2="69.36" y2="298.20" stroke="#2a2a2a" stroke-width="0.7"/>
<line x1="71.42" y1="296.70" x2="71.42" y2="298.20" stroke="#2a2a2a" stroke-width="0.7"/>
<line x1="73.10" y1="296.70" x2="73.10" y2="298.20" stroke="#2a2a2a" stroke-width="0.7"/>
<line x1="74.52" y1="296.70" x2="74.52" y2="298.20" stroke="#2a2a2a" stroke-width="0.7"/>
<line x1="75.75" y1="296.70" x2="75.75" y2="298.20" stroke="#2a2a2a" stroke-width="0.7"/>
<line x1="76.83" y1="296.70" x2="76.83" y2="298.20" stroke="#2a2a2a" stroke-width="0.7"/>
<line x1="84.18" y1="296.70" x2="84.18" y2="298.20" stroke="#2a2a2a" stroke-width="0.7"/>
<line x1="87.91" y1="296.70" x2="87.91" y2="298.20" stroke="#2a2a2a" stroke-width="0.7"/>
<line x1="90.56" y1="296.70" x2="90.56" y2="298.20" stroke="#2a2a2a" stroke-width="0.7"/>
<line x1="92.62" y1="296.70" x2="92.62" y2="298.20" stroke="#2a2a2a" stroke-width="0.7"/>
<line x1="94.30" y1="296.70" x2="94.30" y2="298.20" stroke="#2a2a2a" stroke-width="0.7"/>
<line x1="95.72" y1="296.70" x2="95.72" y2="298.20" stroke="#2a2a2a" stroke-width="0.7"/>
<line x1="96.95" y1="296.70" x2="96.95" y2="298.20" stroke="#2a2a2a" stroke-width="0.7"/>
<line x1="98.03" y1="296.70" x2="98.03" y2="298.20" stroke="#2a2a2a" stroke-width="0.7"/>
<line x1="105.38" y1="296.70" x2="105.38" y2="298.20" stroke="#2a2a2a" stroke-width="0.7"/>
<line x1="109.11" y1="296.70" x2="109.11" y2="298.20" stroke="#2a2a2a" stroke-width="0.7"/>
<line x1="111.76" y1="296.70" x2="111.76" y2="298.20" stroke="#2a2a2a" stroke-width="0.7"/>
<line x1="113.82" y1="296.70" x2="113.82" y2="298.20" stroke="#2a2a2a" stroke-width="0.7"/>
<line x1="115.50" y1="296.70" x2="115.50" y2="298.20" stroke="#2a2a2a" stroke-width="0.7"/>
<line x1="116.92" y1="296.70" x2="116.92" y2="298.20" stroke="#2a2a2a" stroke-width="0.7"/>
<line x1="118.15" y1="296.70" x2="118.15" y2="298.20" stroke="#2a2a2a" stroke-width="0.7"/>
<line x1="119.23" y1="296.70" x2="119.23" y2="298.20" stroke="#2a2a2a" stroke-width="0.7"/>
<line x1="126.58" y1="296.70" x2="126.58" y2="298.20" stroke="#2a2a2a" stroke-width="0.7"/>
<line x1="130.31" y1="296.70" x2="130.31" y2="298.20" stroke="#2a2a2a" stroke-width="0.7"/>
<line x1="132.96" y1="296.70" x2="132.96" y2="298.20" stroke="#2a2a2a" stroke-width="0.7"/>
<line x1="135.02" y1="296.70" x2="135.02" y2="298.20" stroke="#2a2a2a" stroke-width="0.7"/>
<line x1="136.70" y1="296.70" x2="136.70" y2="298.20" stroke="#2a2a2a" stroke-width="0.7"/>
<line x1="138.12" y1="296.70" x2="138.12" y2="298.20" stroke="#2a2a2a" stroke-width="0.7"/>
<line x1="139.35" y1="296.70" x2="139.35" y2="298.20" stroke="#2a2a2a" stroke-width="0.7"/>
<line x1="140.43" y1="296.70" x2="140.43" y2="298.20" stroke="#2a2a2a" stroke-width="0.7"/>
<line x1="147.78" y1="296.70" x2="147.78" y2="298.20" stroke="#2a2a2a" stroke-width="0.7"/>
<line x1="151.51" y1="296.70" x2="151.51" y2="298.20" stroke="#2a2a2a" stroke-width="0.7"/>
<line x1="154.16" y1="296.70" x2="154.16" y2="298.20" stroke="#2a2a2a" stroke-width="0.7"/>
<line x1="156.22" y1="296.70" x2="156.22" y2="298.20" stroke="#2a2a2a" stroke-width="0.7"/>
<line x1="157.90" y1="296.70" x2="157.90" y2="298.20" stroke="#2a2a2a" stroke-width="0.7"/>
<line x1="159.32" y1="296.70" x2="159.32" y2="298.20" stroke="#2a2a2a" stroke-width="0.7"/>
<line x1="160.55" y1="296.70" x2="160.55" y2="298.20" stroke="#2a2a2a" stroke-width="0.7"/>
<path d="M45.30 236.61 L46.79 236.61 L48.28 236.61 L49.76 236.61 L51.25 236.62 L52.74 236.62 L54.23 236.63 L55.72 236.64 L57.21 236.65 L58.70 236.66 L60.19 236.68 L61.68 236.71 L63.17 236.74 L64.66 236.79 L66.14 236.85 L67.63 236.93 L69.12 237.03 L70.61 237.16 L72.10 237.34 L73.59 237.56 L75.08 237.85 L76.57 238.22 L78.06 238.70 L79.55 239.30 L81.04 240.05 L82.52 240.97 L84.01 242.08 L85.50 243.40 L86.99 244.91 L88.48 246.59 L89.97 248.42 L91.46 250.32 L92.95 252.23 L94.44 254.08 L95.93 255.81 L97.42 257.37 L98.91 258.73 L100.39 259.90 L101.88 260.86 L103.37 261.65 L104.86 262.29 L106.35 262.80 L107.84 263.19 L109.33 263.50 L110.82 263.74 L112.31 263.93 L113.80 264.07 L115.29 264.18 L116.77 264.26 L118.26 264.33 L119.75 264.38 L121.24 264.41 L122.73 264.44 L124.22 264.46 L125.71 264.48 L127.20 264.49 L128.69 264.50 L130.18 264.51 L131.67 264.51 L133.15 264.52 L134.64 264.52" fill="none" stroke="#c41f48" stroke-width="0.85"/>
<path d="M55.53 236.60 L57.12 236.60 L58.72 236.60 L60.31 236.60 L61.91 236.60 L63.50 236.60 L65.10 236.60 L66.70 236.60 L68.29 236.60 L69.89 236.60 L71.48 236.60 L73.08 236.60 L74.67 236.60 L76.27 236.60 L77.86 236.60 L79.46 236.60 L81.05 236.60 L82.65 236.60 L84.25 236.60 L85.84 236.60 L87.44 236.60 L89.03 236.61 L90.63 236.61 L92.22 236.61 L93.82 236.62 L95.41 236.63 L97.01 236.64 L98.60 236.66 L100.20 236.68 L101.80 236.72 L103.39 236.79 L104.99 236.87 L106.58 237.01 L108.18 237.20 L109.77 237.48 L111.37 237.88 L112.96 238.44 L114.56 239.22 L116.15 240.26 L117.75 241.58 L119.35 243.17 L120.94 244.97 L122.54 246.85 L124.13 248.67 L125.73 250.31 L127.32 251.68 L128.92 252.77 L130.51 253.59 L132.11 254.19 L133.70 254.61 L135.30 254.91 L136.90 255.12 L138.49 255.26 L140.09 255.35 L141.68 255.42 L143.28 255.46 L144.87 255.49 L146.47 255.51 L148.06 255.53 L149.66 255.53 L151.25 255.54" fill="none" stroke="#2a5070" stroke-width="0.85"/>
<circle cx="55.53" cy="237.00" r="1.20" fill="#142a42"/>
<circle cx="61.91" cy="237.00" r="1.20" fill="#142a42"/>
<circle cx="68.29" cy="235.50" r="1.20" fill="#142a42"/>
<circle cx="74.67" cy="233.71" r="1.20" fill="#142a42"/>
<line x1="81.05" y1="235.20" x2="81.05" y2="231.21" stroke="#142a42" stroke-width="0.6"/>
<line x1="80.15" y1="231.21" x2="81.95" y2="231.21" stroke="#142a42" stroke-width="0.6"/>
<line x1="80.15" y1="235.20" x2="81.95" y2="235.20" stroke="#142a42" stroke-width="0.6"/>
<circle cx="81.05" cy="233.21" r="1.20" fill="#142a42"/>
<line x1="87.44" y1="233.01" x2="87.44" y2="227.02" stroke="#142a42" stroke-width="0.6"/>
<line x1="86.54" y1="227.02" x2="88.34" y2="227.02" stroke="#142a42" stroke-width="0.6"/>
<line x1="86.54" y1="233.01" x2="88.34" y2="233.01" stroke="#142a42" stroke-width="0.6"/>
<circle cx="87.44" cy="230.02" r="1.20" fill="#142a42"/>
<circle cx="93.82" cy="235.70" r="1.20" fill="#142a42"/>
<line x1="100.20" y1="234.70" x2="100.20" y2="231.71" stroke="#142a42" stroke-width="0.6"/>
<line x1="99.30" y1="231.71" x2="101.10" y2="231.71" stroke="#142a42" stroke-width="0.6"/>
<line x1="99.30" y1="234.70" x2="101.10" y2="234.70" stroke="#142a42" stroke-width="0.6"/>
<circle cx="100.20" cy="233.21" r="1.20" fill="#142a42"/>
<line x1="106.58" y1="249.27" x2="106.58" y2="243.28" stroke="#142a42" stroke-width="0.6"/>
<line x1="105.68" y1="243.28" x2="107.48" y2="243.28" stroke="#142a42" stroke-width="0.6"/>
<line x1="105.68" y1="249.27" x2="107.48" y2="249.27" stroke="#142a42" stroke-width="0.6"/>
<circle cx="106.58" cy="246.28" r="1.20" fill="#142a42"/>
<circle cx="112.96" cy="238.00" r="1.20" fill="#142a42"/>
<line x1="119.35" y1="245.78" x2="119.35" y2="241.79" stroke="#142a42" stroke-width="0.6"/>
<line x1="118.45" y1="241.79" x2="120.25" y2="241.79" stroke="#142a42" stroke-width="0.6"/>
<line x1="118.45" y1="245.78" x2="120.25" y2="245.78" stroke="#142a42" stroke-width="0.6"/>
<circle cx="119.35" cy="243.78" r="1.20" fill="#142a42"/>
<line x1="125.73" y1="254.95" x2="125.73" y2="250.96" stroke="#142a42" stroke-width="0.6"/>
<line x1="124.83" y1="250.96" x2="126.63" y2="250.96" stroke="#142a42" stroke-width="0.6"/>
<line x1="124.83" y1="254.95" x2="126.63" y2="254.95" stroke="#142a42" stroke-width="0.6"/>
<circle cx="125.73" cy="252.96" r="1.20" fill="#142a42"/>
<line x1="132.11" y1="258.74" x2="132.11" y2="252.76" stroke="#142a42" stroke-width="0.6"/>
<line x1="131.21" y1="252.76" x2="133.01" y2="252.76" stroke="#142a42" stroke-width="0.6"/>
<line x1="131.21" y1="258.74" x2="133.01" y2="258.74" stroke="#142a42" stroke-width="0.6"/>
<circle cx="132.11" cy="255.75" r="1.20" fill="#142a42"/>
<line x1="138.49" y1="256.05" x2="138.49" y2="250.07" stroke="#142a42" stroke-width="0.6"/>
<line x1="137.59" y1="250.07" x2="139.39" y2="250.07" stroke="#142a42" stroke-width="0.6"/>
<line x1="137.59" y1="256.05" x2="139.39" y2="256.05" stroke="#142a42" stroke-width="0.6"/>
<circle cx="138.49" cy="253.06" r="1.20" fill="#142a42"/>
<circle cx="144.87" cy="258.74" r="1.20" fill="#142a42"/>
<line x1="151.25" y1="247.37" x2="151.25" y2="243.38" stroke="#142a42" stroke-width="0.6"/>
<line x1="150.35" y1="243.38" x2="152.15" y2="243.38" stroke="#142a42" stroke-width="0.6"/>
<line x1="150.35" y1="247.37" x2="152.15" y2="247.37" stroke="#142a42" stroke-width="0.6"/>
<circle cx="151.25" cy="245.38" r="1.20" fill="#142a42"/>
<line x1="45.30" y1="237.60" x2="45.30" y2="231.61" stroke="#8c0f32" stroke-width="0.6"/>
<line x1="44.40" y1="231.61" x2="46.20" y2="231.61" stroke="#8c0f32" stroke-width="0.6"/>
<line x1="44.40" y1="237.60" x2="46.20" y2="237.60" stroke="#8c0f32" stroke-width="0.6"/>
<rect x="44.10" y="233.41" width="2.40" height="2.40" fill="#8c0f32"/>
<line x1="51.68" y1="242.59" x2="51.68" y2="238.59" stroke="#8c0f32" stroke-width="0.6"/>
<line x1="50.78" y1="238.59" x2="52.58" y2="238.59" stroke="#8c0f32" stroke-width="0.6"/>
<line x1="50.78" y1="242.59" x2="52.58" y2="242.59" stroke="#8c0f32" stroke-width="0.6"/>
<rect x="50.48" y="239.39" width="2.40" height="2.40" fill="#8c0f32"/>
<line x1="58.06" y1="236.60" x2="58.06" y2="232.61" stroke="#8c0f32" stroke-width="0.6"/>
<line x1="57.16" y1="232.61" x2="58.96" y2="232.61" stroke="#8c0f32" stroke-width="0.6"/>
<line x1="57.16" y1="236.60" x2="58.96" y2="236.60" stroke="#8c0f32" stroke-width="0.6"/>
<rect x="56.86" y="233.41" width="2.40" height="2.40" fill="#8c0f32"/>
<line x1="64.44" y1="236.60" x2="64.44" y2="230.61" stroke="#8c0f32" stroke-width="0.6"/>
<line x1="63.54" y1="230.61" x2="65.34" y2="230.61" stroke="#8c0f32" stroke-width="0.6"/>
<line x1="63.54" y1="236.60" x2="65.34" y2="236.60" stroke="#8c0f32" stroke-width="0.6"/>
<rect x="63.24" y="232.41" width="2.40" height="2.40" fill="#8c0f32"/>
<line x1="70.82" y1="243.58" x2="70.82" y2="235.60" stroke="#8c0f32" stroke-width="0.6"/>
<line x1="69.92" y1="235.60" x2="71.72" y2="235.60" stroke="#8c0f32" stroke-width="0.6"/>
<line x1="69.92" y1="243.58" x2="71.72" y2="243.58" stroke="#8c0f32" stroke-width="0.6"/>
<rect x="69.62" y="238.39" width="2.40" height="2.40" fill="#8c0f32"/>
<line x1="77.21" y1="240.59" x2="77.21" y2="234.60" stroke="#8c0f32" stroke-width="0.6"/>
<line x1="76.31" y1="234.60" x2="78.11" y2="234.60" stroke="#8c0f32" stroke-width="0.6"/>
<line x1="76.31" y1="240.59" x2="78.11" y2="240.59" stroke="#8c0f32" stroke-width="0.6"/>
<rect x="76.01" y="236.40" width="2.40" height="2.40" fill="#8c0f32"/>
<line x1="83.59" y1="248.07" x2="83.59" y2="236.10" stroke="#8c0f32" stroke-width="0.6"/>
<line x1="82.69" y1="236.10" x2="84.49" y2="236.10" stroke="#8c0f32" stroke-width="0.6"/>
<line x1="82.69" y1="248.07" x2="84.49" y2="248.07" stroke="#8c0f32" stroke-width="0.6"/>
<rect x="82.39" y="240.89" width="2.40" height="2.40" fill="#8c0f32"/>
<line x1="89.97" y1="257.55" x2="89.97" y2="247.57" stroke="#8c0f32" stroke-width="0.6"/>
<line x1="89.07" y1="247.57" x2="90.87" y2="247.57" stroke="#8c0f32" stroke-width="0.6"/>
<line x1="89.07" y1="257.55" x2="90.87" y2="257.55" stroke="#8c0f32" stroke-width="0.6"/>
<rect x="88.77" y="251.36" width="2.40" height="2.40" fill="#8c0f32"/>
<line x1="96.35" y1="262.53" x2="96.35" y2="256.55" stroke="#8c0f32" stroke-width="0.6"/>
<line x1="95.45" y1="256.55" x2="97.25" y2="256.55" stroke="#8c0f32" stroke-width="0.6"/>
<line x1="95.45" y1="262.53" x2="97.25" y2="262.53" stroke="#8c0f32" stroke-width="0.6"/>
<rect x="95.15" y="258.34" width="2.40" height="2.40" fill="#8c0f32"/>
<line x1="102.73" y1="264.53" x2="102.73" y2="258.55" stroke="#8c0f32" stroke-width="0.6"/>
<line x1="101.83" y1="258.55" x2="103.63" y2="258.55" stroke="#8c0f32" stroke-width="0.6"/>
<line x1="101.83" y1="264.53" x2="103.63" y2="264.53" stroke="#8c0f32" stroke-width="0.6"/>
<rect x="101.53" y="260.34" width="2.40" height="2.40" fill="#8c0f32"/>
<line x1="109.12" y1="275.50" x2="109.12" y2="263.53" stroke="#8c0f32" stroke-width="0.6"/>
<line x1="108.22" y1="263.53" x2="110.02" y2="263.53" stroke="#8c0f32" stroke-width="0.6"/>
<line x1="108.22" y1="275.50" x2="110.02" y2="275.50" stroke="#8c0f32" stroke-width="0.6"/>
<rect x="107.92" y="268.32" width="2.40" height="2.40" fill="#8c0f32"/>
<line x1="115.50" y1="271.51" x2="115.50" y2="265.53" stroke="#8c0f32" stroke-width="0.6"/>
<line x1="114.60" y1="265.53" x2="116.40" y2="265.53" stroke="#8c0f32" stroke-width="0.6"/>
<line x1="114.60" y1="271.51" x2="116.40" y2="271.51" stroke="#8c0f32" stroke-width="0.6"/>
<rect x="114.30" y="267.32" width="2.40" height="2.40" fill="#8c0f32"/>
<rect x="120.68" y="257.35" width="2.40" height="2.40" fill="#8c0f32"/>
<rect x="127.06" y="263.83" width="2.40" height="2.40" fill="#8c0f32"/>
<line x1="134.64" y1="262.04" x2="134.64" y2="256.05" stroke="#8c0f32" stroke-width="0.6"/>
<line x1="133.74" y1="256.05" x2="135.54" y2="256.05" stroke="#8c0f32" stroke-width="0.6"/>
<line x1="133.74" y1="262.04" x2="135.54" y2="262.04" stroke="#8c0f32" stroke-width="0.6"/>
<rect x="133.44" y="257.84" width="2.40" height="2.40" fill="#8c0f32"/>
<circle cx="42.70" cy="200.00" r="2.15" fill="#1d4266"/>
<text x="47.90" y="202.00" font-size="6.2" fill="#333" stroke="#333" stroke-width="0.15">M17 + GPVI <tspan font-size="5.7">monomer</tspan></text>
<rect x="40.50" y="207.60" width="4.40" height="4.40" fill="#c4103c"/>
<text x="47.90" y="211.80" font-size="6.2" fill="#333" stroke="#333" stroke-width="0.15">M17 + GPVI <tspan font-size="5.7">dimer</tspan></text>
<text x="7.30" y="188.00" font-size="10.6" text-anchor="start" font-weight="bold" fill="#111" stroke="#111" stroke-width="0.15" >D</text>
<text x="64.80" y="319.50" font-size="7.7" text-anchor="start" font-weight="bold" fill="#333" stroke="#333" stroke-width="0.15" textLength="68" lengthAdjust="spacingAndGlyphs" >GPVI monomer/dimer (nM)</text>
<text transform="translate(15.00,245.30) rotate(-90)" x="0" y="0" font-size="7.8" text-anchor="middle" font-weight="bold" fill="#333" stroke="#333" stroke-width="0.15" textLength="34" lengthAdjust="spacingAndGlyphs">ΔFnorm (‰)</text>
<line x1="209.70" y1="195.00" x2="209.70" y2="297.00" stroke="#2a2a2a" stroke-width="1.1"/>
<line x1="209.20" y1="296.50" x2="335.80" y2="296.50" stroke="#2a2a2a" stroke-width="1.2"/>
<line x1="206.50" y1="296.30" x2="209.70" y2="296.30" stroke="#2a2a2a" stroke-width="0.9"/>
<text x="203.50" y="298.30" font-size="5.9" text-anchor="end" font-weight="normal" fill="#333" stroke="#333" stroke-width="0.15" >-60</text>
<line x1="206.50" y1="276.50" x2="209.70" y2="276.50" stroke="#2a2a2a" stroke-width="0.9"/>
<text x="203.50" y="278.50" font-size="5.9" text-anchor="end" font-weight="normal" fill="#333" stroke="#333" stroke-width="0.15" >-40</text>
<line x1="206.50" y1="256.70" x2="209.70" y2="256.70" stroke="#2a2a2a" stroke-width="0.9"/>
<text x="203.50" y="258.70" font-size="5.9" text-anchor="end" font-weight="normal" fill="#333" stroke="#333" stroke-width="0.15" >-20</text>
<line x1="206.50" y1="236.90" x2="209.70" y2="236.90" stroke="#2a2a2a" stroke-width="0.9"/>
<text x="203.50" y="238.90" font-size="5.9" text-anchor="end" font-weight="normal" fill="#333" stroke="#333" stroke-width="0.15" >0</text>
<line x1="206.50" y1="217.10" x2="209.70" y2="217.10" stroke="#2a2a2a" stroke-width="0.9"/>
<text x="203.50" y="219.10" font-size="5.9" text-anchor="end" font-weight="normal" fill="#333" stroke="#333" stroke-width="0.15" >20</text>
<line x1="206.50" y1="197.30" x2="209.70" y2="197.30" stroke="#2a2a2a" stroke-width="0.9"/>
<text x="203.50" y="199.30" font-size="5.9" text-anchor="end" font-weight="normal" fill="#333" stroke="#333" stroke-width="0.15" >40</text>
<line x1="209.70" y1="296.50" x2="209.70" y2="299.10" stroke="#2a2a2a" stroke-width="0.9"/>
<text x="209.70" y="307.70" font-size="5.9" text-anchor="middle" font-weight="normal" fill="#333" stroke="#333" stroke-width="0.15" >0.01</text>
<line x1="231.45" y1="296.50" x2="231.45" y2="299.10" stroke="#2a2a2a" stroke-width="0.9"/>
<text x="231.45" y="307.70" font-size="5.9" text-anchor="middle" font-weight="normal" fill="#333" stroke="#333" stroke-width="0.15" >0.1</text>
<line x1="253.20" y1="296.50" x2="253.20" y2="299.10" stroke="#2a2a2a" stroke-width="0.9"/>
<text x="253.20" y="307.70" font-size="5.9" text-anchor="middle" font-weight="normal" fill="#333" stroke="#333" stroke-width="0.15" >1</text>
<line x1="274.95" y1="296.50" x2="274.95" y2="299.10" stroke="#2a2a2a" stroke-width="0.9"/>
<text x="274.95" y="307.70" font-size="5.9" text-anchor="middle" font-weight="normal" fill="#333" stroke="#333" stroke-width="0.15" >10</text>
<line x1="296.70" y1="296.50" x2="296.70" y2="299.10" stroke="#2a2a2a" stroke-width="0.9"/>
<text x="296.70" y="307.70" font-size="5.9" text-anchor="middle" font-weight="normal" fill="#333" stroke="#333" stroke-width="0.15" >100</text>
<line x1="318.45" y1="296.50" x2="318.45" y2="299.10" stroke="#2a2a2a" stroke-width="0.9"/>
<text x="318.45" y="307.70" font-size="5.9" text-anchor="middle" font-weight="normal" fill="#333" stroke="#333" stroke-width="0.15" >1000</text>
<line x1="216.25" y1="296.50" x2="216.25" y2="298.00" stroke="#2a2a2a" stroke-width="0.7"/>
<line x1="220.08" y1="296.50" x2="220.08" y2="298.00" stroke="#2a2a2a" stroke-width="0.7"/>
<line x1="222.79" y1="296.50" x2="222.79" y2="298.00" stroke="#2a2a2a" stroke-width="0.7"/>
<line x1="224.90" y1="296.50" x2="224.90" y2="298.00" stroke="#2a2a2a" stroke-width="0.7"/>
<line x1="226.62" y1="296.50" x2="226.62" y2="298.00" stroke="#2a2a2a" stroke-width="0.7"/>
<line x1="228.08" y1="296.50" x2="228.08" y2="298.00" stroke="#2a2a2a" stroke-width="0.7"/>
<line x1="229.34" y1="296.50" x2="229.34" y2="298.00" stroke="#2a2a2a" stroke-width="0.7"/>
<line x1="230.45" y1="296.50" x2="230.45" y2="298.00" stroke="#2a2a2a" stroke-width="0.7"/>
<line x1="238.00" y1="296.50" x2="238.00" y2="298.00" stroke="#2a2a2a" stroke-width="0.7"/>
<line x1="241.83" y1="296.50" x2="241.83" y2="298.00" stroke="#2a2a2a" stroke-width="0.7"/>
<line x1="244.54" y1="296.50" x2="244.54" y2="298.00" stroke="#2a2a2a" stroke-width="0.7"/>
<line x1="246.65" y1="296.50" x2="246.65" y2="298.00" stroke="#2a2a2a" stroke-width="0.7"/>
<line x1="248.37" y1="296.50" x2="248.37" y2="298.00" stroke="#2a2a2a" stroke-width="0.7"/>
<line x1="249.83" y1="296.50" x2="249.83" y2="298.00" stroke="#2a2a2a" stroke-width="0.7"/>
<line x1="251.09" y1="296.50" x2="251.09" y2="298.00" stroke="#2a2a2a" stroke-width="0.7"/>
<line x1="252.20" y1="296.50" x2="252.20" y2="298.00" stroke="#2a2a2a" stroke-width="0.7"/>
<line x1="259.75" y1="296.50" x2="259.75" y2="298.00" stroke="#2a2a2a" stroke-width="0.7"/>
<line x1="263.58" y1="296.50" x2="263.58" y2="298.00" stroke="#2a2a2a" stroke-width="0.7"/>
<line x1="266.29" y1="296.50" x2="266.29" y2="298.00" stroke="#2a2a2a" stroke-width="0.7"/>
<line x1="268.40" y1="296.50" x2="268.40" y2="298.00" stroke="#2a2a2a" stroke-width="0.7"/>
<line x1="270.12" y1="296.50" x2="270.12" y2="298.00" stroke="#2a2a2a" stroke-width="0.7"/>
<line x1="271.58" y1="296.50" x2="271.58" y2="298.00" stroke="#2a2a2a" stroke-width="0.7"/>
<line x1="272.84" y1="296.50" x2="272.84" y2="298.00" stroke="#2a2a2a" stroke-width="0.7"/>
<line x1="273.95" y1="296.50" x2="273.95" y2="298.00" stroke="#2a2a2a" stroke-width="0.7"/>
<line x1="281.50" y1="296.50" x2="281.50" y2="298.00" stroke="#2a2a2a" stroke-width="0.7"/>
<line x1="285.33" y1="296.50" x2="285.33" y2="298.00" stroke="#2a2a2a" stroke-width="0.7"/>
<line x1="288.04" y1="296.50" x2="288.04" y2="298.00" stroke="#2a2a2a" stroke-width="0.7"/>
<line x1="290.15" y1="296.50" x2="290.15" y2="298.00" stroke="#2a2a2a" stroke-width="0.7"/>
<line x1="291.87" y1="296.50" x2="291.87" y2="298.00" stroke="#2a2a2a" stroke-width="0.7"/>
<line x1="293.33" y1="296.50" x2="293.33" y2="298.00" stroke="#2a2a2a" stroke-width="0.7"/>
<line x1="294.59" y1="296.50" x2="294.59" y2="298.00" stroke="#2a2a2a" stroke-width="0.7"/>
<line x1="295.70" y1="296.50" x2="295.70" y2="298.00" stroke="#2a2a2a" stroke-width="0.7"/>
<line x1="303.25" y1="296.50" x2="303.25" y2="298.00" stroke="#2a2a2a" stroke-width="0.7"/>
<line x1="307.08" y1="296.50" x2="307.08" y2="298.00" stroke="#2a2a2a" stroke-width="0.7"/>
<line x1="309.79" y1="296.50" x2="309.79" y2="298.00" stroke="#2a2a2a" stroke-width="0.7"/>
<line x1="311.90" y1="296.50" x2="311.90" y2="298.00" stroke="#2a2a2a" stroke-width="0.7"/>
<line x1="313.62" y1="296.50" x2="313.62" y2="298.00" stroke="#2a2a2a" stroke-width="0.7"/>
<line x1="315.08" y1="296.50" x2="315.08" y2="298.00" stroke="#2a2a2a" stroke-width="0.7"/>
<line x1="316.34" y1="296.50" x2="316.34" y2="298.00" stroke="#2a2a2a" stroke-width="0.7"/>
<line x1="317.45" y1="296.50" x2="317.45" y2="298.00" stroke="#2a2a2a" stroke-width="0.7"/>
<line x1="325.00" y1="296.50" x2="325.00" y2="298.00" stroke="#2a2a2a" stroke-width="0.7"/>
<line x1="328.83" y1="296.50" x2="328.83" y2="298.00" stroke="#2a2a2a" stroke-width="0.7"/>
<line x1="331.54" y1="296.50" x2="331.54" y2="298.00" stroke="#2a2a2a" stroke-width="0.7"/>
<line x1="333.65" y1="296.50" x2="333.65" y2="298.00" stroke="#2a2a2a" stroke-width="0.7"/>
<path d="M219.85 243.24 L221.38 243.24 L222.91 243.24 L224.44 243.24 L225.97 243.24 L227.49 243.24 L229.02 243.24 L230.55 243.24 L232.08 243.24 L233.60 243.24 L235.13 243.24 L236.66 243.24 L238.19 243.24 L239.71 243.24 L241.24 243.24 L242.77 243.24 L244.30 243.23 L245.83 243.23 L247.35 243.23 L248.88 243.23 L250.41 243.23 L251.94 243.23 L253.46 243.23 L254.99 243.23 L256.52 243.22 L258.05 243.22 L259.58 243.21 L261.10 243.21 L262.63 243.20 L264.16 243.18 L265.69 243.16 L267.21 243.14 L268.74 243.11 L270.27 243.06 L271.80 243.00 L273.32 242.92 L274.85 242.82 L276.38 242.68 L277.91 242.49 L279.44 242.24 L280.96 241.91 L282.49 241.47 L284.02 240.90 L285.55 240.15 L287.07 239.18 L288.60 237.94 L290.13 236.39 L291.66 234.48 L293.19 232.18 L294.71 229.49 L296.24 226.44 L297.77 223.12 L299.30 219.65 L300.82 216.17 L302.35 212.82 L303.88 209.73 L305.41 206.99 L306.93 204.64 L308.46 202.68 L309.99 201.09 L311.52 199.82" fill="none" stroke="#c41f48" stroke-width="0.85"/>
<circle cx="232.93" cy="236.90" r="1.20" fill="#142a42"/>
<circle cx="239.48" cy="232.94" r="1.20" fill="#142a42"/>
<line x1="246.03" y1="238.39" x2="246.03" y2="234.43" stroke="#142a42" stroke-width="0.6"/>
<line x1="245.13" y1="234.43" x2="246.93" y2="234.43" stroke="#142a42" stroke-width="0.6"/>
<line x1="245.13" y1="238.39" x2="246.93" y2="238.39" stroke="#142a42" stroke-width="0.6"/>
<circle cx="246.03" cy="236.41" r="1.20" fill="#142a42"/>
<line x1="252.58" y1="239.87" x2="252.58" y2="235.91" stroke="#142a42" stroke-width="0.6"/>
<line x1="251.68" y1="235.91" x2="253.48" y2="235.91" stroke="#142a42" stroke-width="0.6"/>
<line x1="251.68" y1="239.87" x2="253.48" y2="239.87" stroke="#142a42" stroke-width="0.6"/>
<circle cx="252.58" cy="237.89" r="1.20" fill="#142a42"/>
<line x1="259.12" y1="240.37" x2="259.12" y2="234.43" stroke="#142a42" stroke-width="0.6"/>
<line x1="258.22" y1="234.43" x2="260.02" y2="234.43" stroke="#142a42" stroke-width="0.6"/>
<line x1="258.22" y1="240.37" x2="260.02" y2="240.37" stroke="#142a42" stroke-width="0.6"/>
<circle cx="259.12" cy="237.40" r="1.20" fill="#142a42"/>
<line x1="265.67" y1="251.25" x2="265.67" y2="229.47" stroke="#142a42" stroke-width="0.6"/>
<line x1="264.77" y1="229.47" x2="266.57" y2="229.47" stroke="#142a42" stroke-width="0.6"/>
<line x1="264.77" y1="251.25" x2="266.57" y2="251.25" stroke="#142a42" stroke-width="0.6"/>
<circle cx="265.67" cy="240.37" r="1.20" fill="#142a42"/>
<line x1="272.22" y1="241.85" x2="272.22" y2="237.89" stroke="#142a42" stroke-width="0.6"/>
<line x1="271.32" y1="237.89" x2="273.12" y2="237.89" stroke="#142a42" stroke-width="0.6"/>
<line x1="271.32" y1="241.85" x2="273.12" y2="241.85" stroke="#142a42" stroke-width="0.6"/>
<circle cx="272.22" cy="239.87" r="1.20" fill="#142a42"/>
<line x1="278.76" y1="241.85" x2="278.76" y2="237.89" stroke="#142a42" stroke-width="0.6"/>
<line x1="277.86" y1="237.89" x2="279.66" y2="237.89" stroke="#142a42" stroke-width="0.6"/>
<line x1="277.86" y1="241.85" x2="279.66" y2="241.85" stroke="#142a42" stroke-width="0.6"/>
<circle cx="278.76" cy="239.87" r="1.20" fill="#142a42"/>
<line x1="285.31" y1="242.84" x2="285.31" y2="238.88" stroke="#142a42" stroke-width="0.6"/>
<line x1="284.41" y1="238.88" x2="286.21" y2="238.88" stroke="#142a42" stroke-width="0.6"/>
<line x1="284.41" y1="242.84" x2="286.21" y2="242.84" stroke="#142a42" stroke-width="0.6"/>
<circle cx="285.31" cy="240.86" r="1.20" fill="#142a42"/>
<line x1="291.86" y1="241.85" x2="291.86" y2="237.89" stroke="#142a42" stroke-width="0.6"/>
<line x1="290.96" y1="237.89" x2="292.76" y2="237.89" stroke="#142a42" stroke-width="0.6"/>
<line x1="290.96" y1="241.85" x2="292.76" y2="241.85" stroke="#142a42" stroke-width="0.6"/>
<circle cx="291.86" cy="239.87" r="1.20" fill="#142a42"/>
<line x1="298.41" y1="241.36" x2="298.41" y2="237.40" stroke="#142a42" stroke-width="0.6"/>
<line x1="297.51" y1="237.40" x2="299.31" y2="237.40" stroke="#142a42" stroke-width="0.6"/>
<line x1="297.51" y1="241.36" x2="299.31" y2="241.36" stroke="#142a42" stroke-width="0.6"/>
<circle cx="298.41" cy="239.38" r="1.20" fill="#142a42"/>
<circle cx="304.95" cy="240.37" r="1.20" fill="#142a42"/>
<line x1="311.50" y1="236.90" x2="311.50" y2="232.94" stroke="#142a42" stroke-width="0.6"/>
<line x1="310.60" y1="232.94" x2="312.40" y2="232.94" stroke="#142a42" stroke-width="0.6"/>
<line x1="310.60" y1="236.90" x2="312.40" y2="236.90" stroke="#142a42" stroke-width="0.6"/>
<circle cx="311.50" cy="234.92" r="1.20" fill="#142a42"/>
<line x1="318.05" y1="232.44" x2="318.05" y2="228.49" stroke="#142a42" stroke-width="0.6"/>
<line x1="317.15" y1="228.49" x2="318.95" y2="228.49" stroke="#142a42" stroke-width="0.6"/>
<line x1="317.15" y1="232.44" x2="318.95" y2="232.44" stroke="#142a42" stroke-width="0.6"/>
<circle cx="318.05" cy="230.47" r="1.20" fill="#142a42"/>
<line x1="324.60" y1="230.47" x2="324.60" y2="226.50" stroke="#142a42" stroke-width="0.6"/>
<line x1="323.70" y1="226.50" x2="325.50" y2="226.50" stroke="#142a42" stroke-width="0.6"/>
<line x1="323.70" y1="230.47" x2="325.50" y2="230.47" stroke="#142a42" stroke-width="0.6"/>
<circle cx="324.60" cy="228.49" r="1.20" fill="#142a42"/>
<line x1="331.14" y1="227.00" x2="331.14" y2="223.04" stroke="#142a42" stroke-width="0.6"/>
<line x1="330.24" y1="223.04" x2="332.04" y2="223.04" stroke="#142a42" stroke-width="0.6"/>
<line x1="330.24" y1="227.00" x2="332.04" y2="227.00" stroke="#142a42" stroke-width="0.6"/>
<circle cx="331.14" cy="225.02" r="1.20" fill="#142a42"/>
<line x1="219.85" y1="240.86" x2="219.85" y2="232.94" stroke="#8c0f32" stroke-width="0.6"/>
<line x1="218.95" y1="232.94" x2="220.75" y2="232.94" stroke="#8c0f32" stroke-width="0.6"/>
<line x1="218.95" y1="240.86" x2="220.75" y2="240.86" stroke="#8c0f32" stroke-width="0.6"/>
<rect x="218.65" y="235.70" width="2.40" height="2.40" fill="#8c0f32"/>
<line x1="226.40" y1="244.33" x2="226.40" y2="239.38" stroke="#8c0f32" stroke-width="0.6"/>
<line x1="225.50" y1="239.38" x2="227.30" y2="239.38" stroke="#8c0f32" stroke-width="0.6"/>
<line x1="225.50" y1="244.33" x2="227.30" y2="244.33" stroke="#8c0f32" stroke-width="0.6"/>
<rect x="225.20" y="240.65" width="2.40" height="2.40" fill="#8c0f32"/>
<line x1="232.95" y1="248.78" x2="232.95" y2="243.83" stroke="#8c0f32" stroke-width="0.6"/>
<line x1="232.05" y1="243.83" x2="233.85" y2="243.83" stroke="#8c0f32" stroke-width="0.6"/>
<line x1="232.05" y1="248.78" x2="233.85" y2="248.78" stroke="#8c0f32" stroke-width="0.6"/>
<rect x="231.75" y="245.11" width="2.40" height="2.40" fill="#8c0f32"/>
<line x1="239.50" y1="247.79" x2="239.50" y2="241.85" stroke="#8c0f32" stroke-width="0.6"/>
<line x1="238.60" y1="241.85" x2="240.40" y2="241.85" stroke="#8c0f32" stroke-width="0.6"/>
<line x1="238.60" y1="247.79" x2="240.40" y2="247.79" stroke="#8c0f32" stroke-width="0.6"/>
<rect x="238.30" y="243.62" width="2.40" height="2.40" fill="#8c0f32"/>
<line x1="246.04" y1="245.31" x2="246.04" y2="241.36" stroke="#8c0f32" stroke-width="0.6"/>
<line x1="245.14" y1="241.36" x2="246.94" y2="241.36" stroke="#8c0f32" stroke-width="0.6"/>
<line x1="245.14" y1="245.31" x2="246.94" y2="245.31" stroke="#8c0f32" stroke-width="0.6"/>
<rect x="244.84" y="242.14" width="2.40" height="2.40" fill="#8c0f32"/>
<line x1="252.59" y1="253.24" x2="252.59" y2="239.38" stroke="#8c0f32" stroke-width="0.6"/>
<line x1="251.69" y1="239.38" x2="253.49" y2="239.38" stroke="#8c0f32" stroke-width="0.6"/>
<line x1="251.69" y1="253.24" x2="253.49" y2="253.24" stroke="#8c0f32" stroke-width="0.6"/>
<rect x="251.39" y="245.11" width="2.40" height="2.40" fill="#8c0f32"/>
<line x1="259.14" y1="244.82" x2="259.14" y2="238.88" stroke="#8c0f32" stroke-width="0.6"/>
<line x1="258.24" y1="238.88" x2="260.04" y2="238.88" stroke="#8c0f32" stroke-width="0.6"/>
<line x1="258.24" y1="244.82" x2="260.04" y2="244.82" stroke="#8c0f32" stroke-width="0.6"/>
<rect x="257.94" y="240.65" width="2.40" height="2.40" fill="#8c0f32"/>
<rect x="264.49" y="240.65" width="2.40" height="2.40" fill="#8c0f32"/>
<line x1="272.23" y1="244.82" x2="272.23" y2="238.88" stroke="#8c0f32" stroke-width="0.6"/>
<line x1="271.33" y1="238.88" x2="273.13" y2="238.88" stroke="#8c0f32" stroke-width="0.6"/>
<line x1="271.33" y1="244.82" x2="273.13" y2="244.82" stroke="#8c0f32" stroke-width="0.6"/>
<rect x="271.03" y="240.65" width="2.40" height="2.40" fill="#8c0f32"/>
<line x1="278.78" y1="243.34" x2="278.78" y2="239.38" stroke="#8c0f32" stroke-width="0.6"/>
<line x1="277.88" y1="239.38" x2="279.68" y2="239.38" stroke="#8c0f32" stroke-width="0.6"/>
<line x1="277.88" y1="243.34" x2="279.68" y2="243.34" stroke="#8c0f32" stroke-width="0.6"/>
<rect x="277.58" y="240.16" width="2.40" height="2.40" fill="#8c0f32"/>
<line x1="285.33" y1="244.33" x2="285.33" y2="240.37" stroke="#8c0f32" stroke-width="0.6"/>
<line x1="284.43" y1="240.37" x2="286.23" y2="240.37" stroke="#8c0f32" stroke-width="0.6"/>
<line x1="284.43" y1="244.33" x2="286.23" y2="244.33" stroke="#8c0f32" stroke-width="0.6"/>
<rect x="284.13" y="241.15" width="2.40" height="2.40" fill="#8c0f32"/>
<line x1="291.88" y1="237.40" x2="291.88" y2="231.46" stroke="#8c0f32" stroke-width="0.6"/>
<line x1="290.98" y1="231.46" x2="292.78" y2="231.46" stroke="#8c0f32" stroke-width="0.6"/>
<line x1="290.98" y1="237.40" x2="292.78" y2="237.40" stroke="#8c0f32" stroke-width="0.6"/>
<rect x="290.68" y="233.23" width="2.40" height="2.40" fill="#8c0f32"/>
<line x1="298.42" y1="222.05" x2="298.42" y2="216.11" stroke="#8c0f32" stroke-width="0.6"/>
<line x1="297.52" y1="216.11" x2="299.32" y2="216.11" stroke="#8c0f32" stroke-width="0.6"/>
<line x1="297.52" y1="222.05" x2="299.32" y2="222.05" stroke="#8c0f32" stroke-width="0.6"/>
<rect x="297.22" y="217.88" width="2.40" height="2.40" fill="#8c0f32"/>
<line x1="304.97" y1="212.65" x2="304.97" y2="206.71" stroke="#8c0f32" stroke-width="0.6"/>
<line x1="304.07" y1="206.71" x2="305.87" y2="206.71" stroke="#8c0f32" stroke-width="0.6"/>
<line x1="304.07" y1="212.65" x2="305.87" y2="212.65" stroke="#8c0f32" stroke-width="0.6"/>
<rect x="303.77" y="208.48" width="2.40" height="2.40" fill="#8c0f32"/>
<line x1="311.52" y1="201.75" x2="311.52" y2="195.81" stroke="#8c0f32" stroke-width="0.6"/>
<line x1="310.62" y1="195.81" x2="312.42" y2="195.81" stroke="#8c0f32" stroke-width="0.6"/>
<line x1="310.62" y1="201.75" x2="312.42" y2="201.75" stroke="#8c0f32" stroke-width="0.6"/>
<rect x="310.32" y="197.59" width="2.40" height="2.40" fill="#8c0f32"/>
<circle cx="217.00" cy="200.80" r="2.15" fill="#1d4266"/>
<text x="222.20" y="202.80" font-size="6.2" fill="#333" stroke="#333" stroke-width="0.15">D22 + GPVI <tspan font-size="5.7">monomer</tspan></text>
<rect x="214.80" y="208.50" width="4.40" height="4.40" fill="#c4103c"/>
<text x="222.20" y="212.70" font-size="6.2" fill="#333" stroke="#333" stroke-width="0.15">D22 + GPVI <tspan font-size="5.7">dimer</tspan></text>
<text x="181.60" y="188.00" font-size="10.6" text-anchor="start" font-weight="bold" fill="#111" stroke="#111" stroke-width="0.15" >E</text>
<text x="238.30" y="318.30" font-size="7.7" text-anchor="start" font-weight="bold" fill="#333" stroke="#333" stroke-width="0.15" textLength="68" lengthAdjust="spacingAndGlyphs" >GPVI monomer/dimer (nM)</text>
<text transform="translate(189.20,245.30) rotate(-90)" x="0" y="0" font-size="7.8" text-anchor="middle" font-weight="bold" fill="#333" stroke="#333" stroke-width="0.15" textLength="33.5" lengthAdjust="spacingAndGlyphs">ΔFnorm (‰)</text>
<line x1="382.50" y1="195.00" x2="382.50" y2="297.50" stroke="#2a2a2a" stroke-width="1.1"/>
<line x1="382.00" y1="297.00" x2="509.00" y2="297.00" stroke="#2a2a2a" stroke-width="1.2"/>
<line x1="379.30" y1="296.60" x2="382.50" y2="296.60" stroke="#2a2a2a" stroke-width="0.9"/>
<text x="376.30" y="298.60" font-size="5.9" text-anchor="end" font-weight="normal" fill="#333" stroke="#333" stroke-width="0.15" >-60</text>
<line x1="379.30" y1="276.80" x2="382.50" y2="276.80" stroke="#2a2a2a" stroke-width="0.9"/>
<text x="376.30" y="278.80" font-size="5.9" text-anchor="end" font-weight="normal" fill="#333" stroke="#333" stroke-width="0.15" >-40</text>
<line x1="379.30" y1="257.00" x2="382.50" y2="257.00" stroke="#2a2a2a" stroke-width="0.9"/>
<text x="376.30" y="259.00" font-size="5.9" text-anchor="end" font-weight="normal" fill="#333" stroke="#333" stroke-width="0.15" >-20</text>
<line x1="379.30" y1="237.20" x2="382.50" y2="237.20" stroke="#2a2a2a" stroke-width="0.9"/>
<text x="376.30" y="239.20" font-size="5.9" text-anchor="end" font-weight="normal" fill="#333" stroke="#333" stroke-width="0.15" >0</text>
<line x1="379.30" y1="217.40" x2="382.50" y2="217.40" stroke="#2a2a2a" stroke-width="0.9"/>
<text x="376.30" y="219.40" font-size="5.9" text-anchor="end" font-weight="normal" fill="#333" stroke="#333" stroke-width="0.15" >20</text>
<line x1="379.30" y1="197.60" x2="382.50" y2="197.60" stroke="#2a2a2a" stroke-width="0.9"/>
<text x="376.30" y="199.60" font-size="5.9" text-anchor="end" font-weight="normal" fill="#333" stroke="#333" stroke-width="0.15" >40</text>
<line x1="382.30" y1="297.00" x2="382.30" y2="299.60" stroke="#2a2a2a" stroke-width="0.9"/>
<text x="382.30" y="308.20" font-size="5.9" text-anchor="middle" font-weight="normal" fill="#333" stroke="#333" stroke-width="0.15" >0.001</text>
<line x1="404.20" y1="297.00" x2="404.20" y2="299.60" stroke="#2a2a2a" stroke-width="0.9"/>
<text x="404.20" y="308.20" font-size="5.9" text-anchor="middle" font-weight="normal" fill="#333" stroke="#333" stroke-width="0.15" >0.01</text>
<line x1="426.10" y1="297.00" x2="426.10" y2="299.60" stroke="#2a2a2a" stroke-width="0.9"/>
<text x="426.10" y="308.20" font-size="5.9" text-anchor="middle" font-weight="normal" fill="#333" stroke="#333" stroke-width="0.15" >0.1</text>
<line x1="448.00" y1="297.00" x2="448.00" y2="299.60" stroke="#2a2a2a" stroke-width="0.9"/>
<text x="448.00" y="308.20" font-size="5.9" text-anchor="middle" font-weight="normal" fill="#333" stroke="#333" stroke-width="0.15" >1</text>
<line x1="469.90" y1="297.00" x2="469.90" y2="299.60" stroke="#2a2a2a" stroke-width="0.9"/>
<text x="469.90" y="308.20" font-size="5.9" text-anchor="middle" font-weight="normal" fill="#333" stroke="#333" stroke-width="0.15" >10</text>
<line x1="491.80" y1="297.00" x2="491.80" y2="299.60" stroke="#2a2a2a" stroke-width="0.9"/>
<text x="491.80" y="308.20" font-size="5.9" text-anchor="middle" font-weight="normal" fill="#333" stroke="#333" stroke-width="0.15" >100</text>
<line x1="388.89" y1="297.00" x2="388.89" y2="298.50" stroke="#2a2a2a" stroke-width="0.7"/>
<line x1="392.75" y1="297.00" x2="392.75" y2="298.50" stroke="#2a2a2a" stroke-width="0.7"/>
<line x1="395.49" y1="297.00" x2="395.49" y2="298.50" stroke="#2a2a2a" stroke-width="0.7"/>
<line x1="397.61" y1="297.00" x2="397.61" y2="298.50" stroke="#2a2a2a" stroke-width="0.7"/>
<line x1="399.34" y1="297.00" x2="399.34" y2="298.50" stroke="#2a2a2a" stroke-width="0.7"/>
<line x1="400.81" y1="297.00" x2="400.81" y2="298.50" stroke="#2a2a2a" stroke-width="0.7"/>
<line x1="402.08" y1="297.00" x2="402.08" y2="298.50" stroke="#2a2a2a" stroke-width="0.7"/>
<line x1="403.20" y1="297.00" x2="403.20" y2="298.50" stroke="#2a2a2a" stroke-width="0.7"/>
<line x1="410.79" y1="297.00" x2="410.79" y2="298.50" stroke="#2a2a2a" stroke-width="0.7"/>
<line x1="414.65" y1="297.00" x2="414.65" y2="298.50" stroke="#2a2a2a" stroke-width="0.7"/>
<line x1="417.39" y1="297.00" x2="417.39" y2="298.50" stroke="#2a2a2a" stroke-width="0.7"/>
<line x1="419.51" y1="297.00" x2="419.51" y2="298.50" stroke="#2a2a2a" stroke-width="0.7"/>
<line x1="421.24" y1="297.00" x2="421.24" y2="298.50" stroke="#2a2a2a" stroke-width="0.7"/>
<line x1="422.71" y1="297.00" x2="422.71" y2="298.50" stroke="#2a2a2a" stroke-width="0.7"/>
<line x1="423.98" y1="297.00" x2="423.98" y2="298.50" stroke="#2a2a2a" stroke-width="0.7"/>
<line x1="425.10" y1="297.00" x2="425.10" y2="298.50" stroke="#2a2a2a" stroke-width="0.7"/>
<line x1="432.69" y1="297.00" x2="432.69" y2="298.50" stroke="#2a2a2a" stroke-width="0.7"/>
<line x1="436.55" y1="297.00" x2="436.55" y2="298.50" stroke="#2a2a2a" stroke-width="0.7"/>
<line x1="439.29" y1="297.00" x2="439.29" y2="298.50" stroke="#2a2a2a" stroke-width="0.7"/>
<line x1="441.41" y1="297.00" x2="441.41" y2="298.50" stroke="#2a2a2a" stroke-width="0.7"/>
<line x1="443.14" y1="297.00" x2="443.14" y2="298.50" stroke="#2a2a2a" stroke-width="0.7"/>
<line x1="444.61" y1="297.00" x2="444.61" y2="298.50" stroke="#2a2a2a" stroke-width="0.7"/>
<line x1="445.88" y1="297.00" x2="445.88" y2="298.50" stroke="#2a2a2a" stroke-width="0.7"/>
<line x1="447.00" y1="297.00" x2="447.00" y2="298.50" stroke="#2a2a2a" stroke-width="0.7"/>
<line x1="454.59" y1="297.00" x2="454.59" y2="298.50" stroke="#2a2a2a" stroke-width="0.7"/>
<line x1="458.45" y1="297.00" x2="458.45" y2="298.50" stroke="#2a2a2a" stroke-width="0.7"/>
<line x1="461.19" y1="297.00" x2="461.19" y2="298.50" stroke="#2a2a2a" stroke-width="0.7"/>
<line x1="463.31" y1="297.00" x2="463.31" y2="298.50" stroke="#2a2a2a" stroke-width="0.7"/>
<line x1="465.04" y1="297.00" x2="465.04" y2="298.50" stroke="#2a2a2a" stroke-width="0.7"/>
<line x1="466.51" y1="297.00" x2="466.51" y2="298.50" stroke="#2a2a2a" stroke-width="0.7"/>
<line x1="467.78" y1="297.00" x2="467.78" y2="298.50" stroke="#2a2a2a" stroke-width="0.7"/>
<line x1="468.90" y1="297.00" x2="468.90" y2="298.50" stroke="#2a2a2a" stroke-width="0.7"/>
<line x1="476.49" y1="297.00" x2="476.49" y2="298.50" stroke="#2a2a2a" stroke-width="0.7"/>
<line x1="480.35" y1="297.00" x2="480.35" y2="298.50" stroke="#2a2a2a" stroke-width="0.7"/>
<line x1="483.09" y1="297.00" x2="483.09" y2="298.50" stroke="#2a2a2a" stroke-width="0.7"/>
<line x1="485.21" y1="297.00" x2="485.21" y2="298.50" stroke="#2a2a2a" stroke-width="0.7"/>
<line x1="486.94" y1="297.00" x2="486.94" y2="298.50" stroke="#2a2a2a" stroke-width="0.7"/>
<line x1="488.41" y1="297.00" x2="488.41" y2="298.50" stroke="#2a2a2a" stroke-width="0.7"/>
<line x1="489.68" y1="297.00" x2="489.68" y2="298.50" stroke="#2a2a2a" stroke-width="0.7"/>
<line x1="490.80" y1="297.00" x2="490.80" y2="298.50" stroke="#2a2a2a" stroke-width="0.7"/>
<line x1="498.39" y1="297.00" x2="498.39" y2="298.50" stroke="#2a2a2a" stroke-width="0.7"/>
<line x1="502.25" y1="297.00" x2="502.25" y2="298.50" stroke="#2a2a2a" stroke-width="0.7"/>
<line x1="504.99" y1="297.00" x2="504.99" y2="298.50" stroke="#2a2a2a" stroke-width="0.7"/>
<line x1="507.11" y1="297.00" x2="507.11" y2="298.50" stroke="#2a2a2a" stroke-width="0.7"/>
<path d="M392.91 236.21 L394.55 236.21 L396.20 236.21 L397.85 236.21 L399.50 236.21 L401.15 236.21 L402.80 236.21 L404.44 236.21 L406.09 236.21 L407.74 236.21 L409.39 236.21 L411.04 236.21 L412.68 236.21 L414.33 236.21 L415.98 236.21 L417.63 236.21 L419.28 236.21 L420.92 236.21 L422.57 236.21 L424.22 236.22 L425.87 236.23 L427.52 236.26 L429.17 236.33 L430.81 236.49 L432.46 236.87 L434.11 237.73 L435.76 239.53 L437.41 242.87 L439.05 247.74 L440.70 252.86 L442.35 256.68 L444.00 258.86 L445.65 259.93 L447.29 260.40 L448.94 260.61 L450.59 260.70 L452.24 260.73 L453.89 260.75 L455.54 260.76 L457.18 260.76 L458.83 260.76 L460.48 260.76 L462.13 260.76 L463.78 260.76 L465.42 260.76 L467.07 260.76 L468.72 260.76 L470.37 260.76 L472.02 260.76 L473.66 260.76 L475.31 260.76 L476.96 260.76 L478.61 260.76 L480.26 260.76 L481.91 260.76 L483.55 260.76 L485.20 260.76 L486.85 260.76 L488.50 260.76 L490.15 260.76 L491.79 260.76" fill="none" stroke="#c41f48" stroke-width="0.85"/>
<circle cx="392.91" cy="228.78" r="1.20" fill="#142a42"/>
<line x1="399.50" y1="232.74" x2="399.50" y2="222.84" stroke="#142a42" stroke-width="0.6"/>
<line x1="398.60" y1="222.84" x2="400.40" y2="222.84" stroke="#142a42" stroke-width="0.6"/>
<line x1="398.60" y1="232.74" x2="400.40" y2="232.74" stroke="#142a42" stroke-width="0.6"/>
<circle cx="399.50" cy="227.79" r="1.20" fill="#142a42"/>
<circle cx="419.28" cy="232.74" r="1.20" fill="#142a42"/>
<line x1="425.87" y1="237.20" x2="425.87" y2="231.26" stroke="#142a42" stroke-width="0.6"/>
<line x1="424.97" y1="231.26" x2="426.77" y2="231.26" stroke="#142a42" stroke-width="0.6"/>
<line x1="424.97" y1="237.20" x2="426.77" y2="237.20" stroke="#142a42" stroke-width="0.6"/>
<circle cx="425.87" cy="234.23" r="1.20" fill="#142a42"/>
<circle cx="439.05" cy="224.82" r="1.20" fill="#142a42"/>
<line x1="445.65" y1="238.39" x2="445.65" y2="234.43" stroke="#142a42" stroke-width="0.6"/>
<line x1="444.75" y1="234.43" x2="446.55" y2="234.43" stroke="#142a42" stroke-width="0.6"/>
<line x1="444.75" y1="238.39" x2="446.55" y2="238.39" stroke="#142a42" stroke-width="0.6"/>
<circle cx="445.65" cy="236.41" r="1.20" fill="#142a42"/>
<circle cx="452.24" cy="232.74" r="1.20" fill="#142a42"/>
<circle cx="458.83" cy="233.44" r="1.20" fill="#142a42"/>
<line x1="465.42" y1="237.00" x2="465.42" y2="233.04" stroke="#142a42" stroke-width="0.6"/>
<line x1="464.52" y1="233.04" x2="466.32" y2="233.04" stroke="#142a42" stroke-width="0.6"/>
<line x1="464.52" y1="237.00" x2="466.32" y2="237.00" stroke="#142a42" stroke-width="0.6"/>
<circle cx="465.42" cy="235.02" r="1.20" fill="#142a42"/>
<line x1="472.02" y1="232.74" x2="472.02" y2="222.84" stroke="#142a42" stroke-width="0.6"/>
<line x1="471.12" y1="222.84" x2="472.92" y2="222.84" stroke="#142a42" stroke-width="0.6"/>
<line x1="471.12" y1="232.74" x2="472.92" y2="232.74" stroke="#142a42" stroke-width="0.6"/>
<circle cx="472.02" cy="227.79" r="1.20" fill="#142a42"/>
<line x1="478.61" y1="234.43" x2="478.61" y2="228.49" stroke="#142a42" stroke-width="0.6"/>
<line x1="477.71" y1="228.49" x2="479.51" y2="228.49" stroke="#142a42" stroke-width="0.6"/>
<line x1="477.71" y1="234.43" x2="479.51" y2="234.43" stroke="#142a42" stroke-width="0.6"/>
<circle cx="478.61" cy="231.46" r="1.20" fill="#142a42"/>
<line x1="485.20" y1="235.42" x2="485.20" y2="229.48" stroke="#142a42" stroke-width="0.6"/>
<line x1="484.30" y1="229.48" x2="486.10" y2="229.48" stroke="#142a42" stroke-width="0.6"/>
<line x1="484.30" y1="235.42" x2="486.10" y2="235.42" stroke="#142a42" stroke-width="0.6"/>
<circle cx="485.20" cy="232.45" r="1.20" fill="#142a42"/>
<line x1="491.79" y1="232.84" x2="491.79" y2="228.88" stroke="#142a42" stroke-width="0.6"/>
<line x1="490.89" y1="228.88" x2="492.69" y2="228.88" stroke="#142a42" stroke-width="0.6"/>
<line x1="490.89" y1="232.84" x2="492.69" y2="232.84" stroke="#142a42" stroke-width="0.6"/>
<circle cx="491.79" cy="230.86" r="1.20" fill="#142a42"/>
<line x1="392.91" y1="242.64" x2="392.91" y2="236.70" stroke="#8c0f32" stroke-width="0.6"/>
<line x1="392.01" y1="236.70" x2="393.81" y2="236.70" stroke="#8c0f32" stroke-width="0.6"/>
<line x1="392.01" y1="242.64" x2="393.81" y2="242.64" stroke="#8c0f32" stroke-width="0.6"/>
<rect x="391.71" y="238.47" width="2.40" height="2.40" fill="#8c0f32"/>
<line x1="399.50" y1="238.39" x2="399.50" y2="234.43" stroke="#8c0f32" stroke-width="0.6"/>
<line x1="398.60" y1="234.43" x2="400.40" y2="234.43" stroke="#8c0f32" stroke-width="0.6"/>
<line x1="398.60" y1="238.39" x2="400.40" y2="238.39" stroke="#8c0f32" stroke-width="0.6"/>
<rect x="398.30" y="235.21" width="2.40" height="2.40" fill="#8c0f32"/>
<line x1="406.09" y1="236.70" x2="406.09" y2="234.72" stroke="#8c0f32" stroke-width="0.6"/>
<line x1="405.19" y1="234.72" x2="406.99" y2="234.72" stroke="#8c0f32" stroke-width="0.6"/>
<line x1="405.19" y1="236.70" x2="406.99" y2="236.70" stroke="#8c0f32" stroke-width="0.6"/>
<rect x="404.89" y="234.51" width="2.40" height="2.40" fill="#8c0f32"/>
<line x1="412.68" y1="236.61" x2="412.68" y2="232.65" stroke="#8c0f32" stroke-width="0.6"/>
<line x1="411.78" y1="232.65" x2="413.58" y2="232.65" stroke="#8c0f32" stroke-width="0.6"/>
<line x1="411.78" y1="236.61" x2="413.58" y2="236.61" stroke="#8c0f32" stroke-width="0.6"/>
<rect x="411.48" y="233.43" width="2.40" height="2.40" fill="#8c0f32"/>
<line x1="419.28" y1="242.64" x2="419.28" y2="236.70" stroke="#8c0f32" stroke-width="0.6"/>
<line x1="418.38" y1="236.70" x2="420.18" y2="236.70" stroke="#8c0f32" stroke-width="0.6"/>
<line x1="418.38" y1="242.64" x2="420.18" y2="242.64" stroke="#8c0f32" stroke-width="0.6"/>
<rect x="418.08" y="238.47" width="2.40" height="2.40" fill="#8c0f32"/>
<line x1="425.87" y1="238.39" x2="425.87" y2="234.43" stroke="#8c0f32" stroke-width="0.6"/>
<line x1="424.97" y1="234.43" x2="426.77" y2="234.43" stroke="#8c0f32" stroke-width="0.6"/>
<line x1="424.97" y1="238.39" x2="426.77" y2="238.39" stroke="#8c0f32" stroke-width="0.6"/>
<rect x="424.67" y="235.21" width="2.40" height="2.40" fill="#8c0f32"/>
<line x1="432.46" y1="244.03" x2="432.46" y2="232.15" stroke="#8c0f32" stroke-width="0.6"/>
<line x1="431.56" y1="232.15" x2="433.36" y2="232.15" stroke="#8c0f32" stroke-width="0.6"/>
<line x1="431.56" y1="244.03" x2="433.36" y2="244.03" stroke="#8c0f32" stroke-width="0.6"/>
<rect x="431.26" y="236.89" width="2.40" height="2.40" fill="#8c0f32"/>
<rect x="437.85" y="243.92" width="2.40" height="2.40" fill="#8c0f32"/>
<line x1="445.65" y1="262.44" x2="445.65" y2="256.50" stroke="#8c0f32" stroke-width="0.6"/>
<line x1="444.75" y1="256.50" x2="446.55" y2="256.50" stroke="#8c0f32" stroke-width="0.6"/>
<line x1="444.75" y1="262.44" x2="446.55" y2="262.44" stroke="#8c0f32" stroke-width="0.6"/>
<rect x="444.45" y="258.27" width="2.40" height="2.40" fill="#8c0f32"/>
<line x1="452.24" y1="262.15" x2="452.24" y2="258.19" stroke="#8c0f32" stroke-width="0.6"/>
<line x1="451.34" y1="258.19" x2="453.14" y2="258.19" stroke="#8c0f32" stroke-width="0.6"/>
<line x1="451.34" y1="262.15" x2="453.14" y2="262.15" stroke="#8c0f32" stroke-width="0.6"/>
<rect x="451.04" y="258.97" width="2.40" height="2.40" fill="#8c0f32"/>
<line x1="458.83" y1="265.61" x2="458.83" y2="261.65" stroke="#8c0f32" stroke-width="0.6"/>
<line x1="457.93" y1="261.65" x2="459.73" y2="261.65" stroke="#8c0f32" stroke-width="0.6"/>
<line x1="457.93" y1="265.61" x2="459.73" y2="265.61" stroke="#8c0f32" stroke-width="0.6"/>
<rect x="457.63" y="262.43" width="2.40" height="2.40" fill="#8c0f32"/>
<line x1="465.42" y1="269.28" x2="465.42" y2="263.34" stroke="#8c0f32" stroke-width="0.6"/>
<line x1="464.52" y1="263.34" x2="466.32" y2="263.34" stroke="#8c0f32" stroke-width="0.6"/>
<line x1="464.52" y1="269.28" x2="466.32" y2="269.28" stroke="#8c0f32" stroke-width="0.6"/>
<rect x="464.22" y="265.11" width="2.40" height="2.40" fill="#8c0f32"/>
<rect x="470.82" y="255.40" width="2.40" height="2.40" fill="#8c0f32"/>
<rect x="477.41" y="265.80" width="2.40" height="2.40" fill="#8c0f32"/>
<line x1="485.20" y1="263.44" x2="485.20" y2="257.50" stroke="#8c0f32" stroke-width="0.6"/>
<line x1="484.30" y1="257.50" x2="486.10" y2="257.50" stroke="#8c0f32" stroke-width="0.6"/>
<line x1="484.30" y1="263.44" x2="486.10" y2="263.44" stroke="#8c0f32" stroke-width="0.6"/>
<rect x="484.00" y="259.26" width="2.40" height="2.40" fill="#8c0f32"/>
<line x1="491.79" y1="256.90" x2="491.79" y2="252.94" stroke="#8c0f32" stroke-width="0.6"/>
<line x1="490.89" y1="252.94" x2="492.69" y2="252.94" stroke="#8c0f32" stroke-width="0.6"/>
<line x1="490.89" y1="256.90" x2="492.69" y2="256.90" stroke="#8c0f32" stroke-width="0.6"/>
<rect x="490.59" y="253.72" width="2.40" height="2.40" fill="#8c0f32"/>
<circle cx="390.80" cy="201.10" r="2.15" fill="#1d4266"/>
<text x="396.00" y="203.10" font-size="6.2" fill="#333" stroke="#333" stroke-width="0.15">D18 + GPVI <tspan font-size="5.7">monomer</tspan></text>
<rect x="388.60" y="208.80" width="4.40" height="4.40" fill="#c4103c"/>
<text x="396.00" y="213.00" font-size="6.2" fill="#333" stroke="#333" stroke-width="0.15">D18 + GPVI <tspan font-size="5.7">dimer</tspan></text>
<text x="354.40" y="188.00" font-size="10.6" text-anchor="start" font-weight="bold" fill="#111" stroke="#111" stroke-width="0.15" >F</text>
<text x="411.80" y="318.50" font-size="7.7" text-anchor="start" font-weight="bold" fill="#333" stroke="#333" stroke-width="0.15" textLength="68.4" lengthAdjust="spacingAndGlyphs" >GPVI monomer/dimer (nM)</text>
<text transform="translate(362.20,245.20) rotate(-90)" x="0" y="0" font-size="7.8" text-anchor="middle" font-weight="bold" fill="#333" stroke="#333" stroke-width="0.15" textLength="33" lengthAdjust="spacingAndGlyphs">ΔFnorm (‰)</text>
<line x1="101.20" y1="381.20" x2="101.20" y2="454.40" stroke="#2a2a2a" stroke-width="1.1"/>
<line x1="100.70" y1="453.90" x2="250.70" y2="453.90" stroke="#2a2a2a" stroke-width="1.2"/>
<line x1="98.00" y1="453.90" x2="101.20" y2="453.90" stroke="#2a2a2a" stroke-width="0.9"/>
<text x="95.30" y="456.10" font-size="6.4" text-anchor="end" font-weight="normal" fill="#333" stroke="#333" stroke-width="0.15" >0</text>
<line x1="99.90" y1="445.06" x2="101.20" y2="445.06" stroke="#2a2a2a" stroke-width="0.7"/>
<line x1="98.00" y1="436.22" x2="101.20" y2="436.22" stroke="#2a2a2a" stroke-width="0.9"/>
<text x="95.30" y="438.42" font-size="6.4" text-anchor="end" font-weight="normal" fill="#333" stroke="#333" stroke-width="0.15" >20000</text>
<line x1="99.90" y1="427.39" x2="101.20" y2="427.39" stroke="#2a2a2a" stroke-width="0.7"/>
<line x1="98.00" y1="418.55" x2="101.20" y2="418.55" stroke="#2a2a2a" stroke-width="0.9"/>
<text x="95.30" y="420.75" font-size="6.4" text-anchor="end" font-weight="normal" fill="#333" stroke="#333" stroke-width="0.15" >40000</text>
<line x1="99.90" y1="409.71" x2="101.20" y2="409.71" stroke="#2a2a2a" stroke-width="0.7"/>
<line x1="98.00" y1="400.88" x2="101.20" y2="400.88" stroke="#2a2a2a" stroke-width="0.9"/>
<text x="95.30" y="403.07" font-size="6.4" text-anchor="end" font-weight="normal" fill="#333" stroke="#333" stroke-width="0.15" >60000</text>
<line x1="99.90" y1="392.04" x2="101.20" y2="392.04" stroke="#2a2a2a" stroke-width="0.7"/>
<line x1="98.00" y1="383.20" x2="101.20" y2="383.20" stroke="#2a2a2a" stroke-width="0.9"/>
<text x="95.30" y="385.40" font-size="6.4" text-anchor="end" font-weight="normal" fill="#333" stroke="#333" stroke-width="0.15" >80000</text>
<line x1="124.40" y1="453.90" x2="124.40" y2="456.50" stroke="#2a2a2a" stroke-width="0.9"/>
<text x="124.40" y="464.90" font-size="5.8" text-anchor="middle" font-weight="normal" fill="#333" stroke="#333" stroke-width="0.15" >Scaffold</text>
<line x1="158.60" y1="453.90" x2="158.60" y2="456.50" stroke="#2a2a2a" stroke-width="0.9"/>
<text x="158.60" y="464.90" font-size="5.8" text-anchor="middle" font-weight="normal" fill="#333" stroke="#333" stroke-width="0.15" >M17</text>
<line x1="193.10" y1="453.90" x2="193.10" y2="456.50" stroke="#2a2a2a" stroke-width="0.9"/>
<text x="193.10" y="464.90" font-size="5.8" text-anchor="middle" font-weight="normal" fill="#333" stroke="#333" stroke-width="0.15" >D22</text>
<line x1="227.70" y1="453.90" x2="227.70" y2="456.50" stroke="#2a2a2a" stroke-width="0.9"/>
<text x="227.70" y="464.90" font-size="5.8" text-anchor="middle" font-weight="normal" fill="#333" stroke="#333" stroke-width="0.15" >D18</text>
<rect x="113.50" y="452.31" width="21.8" height="1.59" fill="#e8737b" stroke="#c8404f" stroke-width="0.5"/>
<line x1="124.40" y1="453.10" x2="124.40" y2="451.51" stroke="#333" stroke-width="0.8"/>
<line x1="119.40" y1="451.51" x2="129.40" y2="451.51" stroke="#333" stroke-width="0.8"/>
<line x1="119.40" y1="453.10" x2="129.40" y2="453.10" stroke="#333" stroke-width="0.8"/>
<path d="M113.40 451.42L114.55 453.49L112.25 453.49Z" fill="#b8183f"/>
<rect x="117.25" y="450.28" width="2.30" height="2.30" fill="#b8183f"/>
<rect x="119.75" y="450.72" width="2.30" height="2.30" fill="#b8183f"/>
<rect x="123.25" y="450.54" width="2.30" height="2.30" fill="#b8183f"/>
<rect x="125.75" y="450.63" width="2.30" height="2.30" fill="#b8183f"/>
<rect x="128.25" y="450.28" width="2.30" height="2.30" fill="#b8183f"/>
<circle cx="134.40" cy="453.72" r="1.15" fill="#b8183f"/>
<rect x="147.70" y="449.22" width="21.8" height="4.68" fill="#506ea8" stroke="#34508a" stroke-width="0.5"/>
<line x1="158.60" y1="450.63" x2="158.60" y2="447.80" stroke="#333" stroke-width="0.8"/>
<line x1="153.60" y1="447.80" x2="163.60" y2="447.80" stroke="#333" stroke-width="0.8"/>
<line x1="153.60" y1="450.63" x2="163.60" y2="450.63" stroke="#333" stroke-width="0.8"/>
<rect x="148.95" y="445.06" width="2.30" height="2.30" fill="#182c55"/>
<rect x="151.95" y="448.15" width="2.30" height="2.30" fill="#182c55"/>
<rect x="154.95" y="447.45" width="2.30" height="2.30" fill="#182c55"/>
<rect x="157.95" y="447.80" width="2.30" height="2.30" fill="#182c55"/>
<rect x="160.95" y="447.27" width="2.30" height="2.30" fill="#182c55"/>
<rect x="163.95" y="448.33" width="2.30" height="2.30" fill="#182c55"/>
<rect x="165.95" y="448.95" width="2.30" height="2.30" fill="#182c55"/>
<rect x="182.20" y="451.43" width="21.8" height="2.47" fill="#88d888" stroke="#40b040" stroke-width="0.5"/>
<line x1="193.10" y1="452.75" x2="193.10" y2="450.10" stroke="#333" stroke-width="0.8"/>
<line x1="188.10" y1="450.10" x2="198.10" y2="450.10" stroke="#333" stroke-width="0.8"/>
<line x1="188.10" y1="452.75" x2="198.10" y2="452.75" stroke="#333" stroke-width="0.8"/>
<rect x="183.95" y="449.21" width="2.30" height="2.30" fill="#22b040"/>
<rect x="187.45" y="450.54" width="2.30" height="2.30" fill="#22b040"/>
<rect x="190.95" y="451.16" width="2.30" height="2.30" fill="#22b040"/>
<rect x="194.45" y="450.10" width="2.30" height="2.30" fill="#22b040"/>
<rect x="197.95" y="451.69" width="2.30" height="2.30" fill="#22b040"/>
<rect x="200.45" y="450.54" width="2.30" height="2.30" fill="#22b040"/>
<rect x="216.80" y="423.85" width="21.8" height="30.05" fill="#a283bb" stroke="#8a68a6" stroke-width="0.5"/>
<line x1="227.70" y1="443.29" x2="227.70" y2="404.41" stroke="#333" stroke-width="0.8"/>
<line x1="222.70" y1="404.41" x2="232.70" y2="404.41" stroke="#333" stroke-width="0.8"/>
<line x1="222.70" y1="443.29" x2="232.70" y2="443.29" stroke="#333" stroke-width="0.8"/>
<rect x="226.55" y="390.62" width="2.30" height="2.30" fill="#381a4e"/>
<rect x="226.55" y="415.81" width="2.30" height="2.30" fill="#381a4e"/>
<rect x="232.05" y="430.92" width="2.30" height="2.30" fill="#381a4e"/>
<rect x="226.55" y="433.31" width="2.30" height="2.30" fill="#381a4e"/>
<rect x="226.55" y="437.37" width="2.30" height="2.30" fill="#381a4e"/>
<path d="M124.40 363.70V353.30H227.70V385.90" fill="none" stroke="#3a3a3a" stroke-width="0.9"/>
<text x="175.90" y="352.90" font-size="5.4" text-anchor="middle" font-weight="normal" fill="#333" stroke="#333" stroke-width="0.15" >**</text>
<path d="M124.40 378.00V368.40H193.10V444.70" fill="none" stroke="#3a3a3a" stroke-width="0.9"/>
<text x="158.50" y="366.60" font-size="5.4" text-anchor="middle" font-weight="normal" fill="#333" stroke="#333" stroke-width="0.15" >ns</text>
<path d="M124.40 449.50V383.10H158.60V441.80" fill="none" stroke="#3a3a3a" stroke-width="0.9"/>
<text x="141.50" y="381.30" font-size="5.4" text-anchor="middle" font-weight="normal" fill="#333" stroke="#333" stroke-width="0.15" >ns</text>
<line x1="105.50" y1="469.60" x2="246.40" y2="469.60" stroke="#2a2a2a" stroke-width="0.9"/>
<text x="170.80" y="479.40" font-size="7.4" text-anchor="middle" font-weight="bold" fill="#333" stroke="#333" stroke-width="0.15" textLength="19.5" lengthAdjust="spacingAndGlyphs" >CRP-XL</text>
<text transform="translate(72.90,416.80) rotate(-90)" x="0" y="0" font-size="6.8" text-anchor="middle" font-weight="bold" fill="#333" stroke="#333" stroke-width="0.15" textLength="15.8" lengthAdjust="spacingAndGlyphs">Δ MFI</text>
<text x="56.80" y="345.60" font-size="10.6" text-anchor="start" font-weight="bold" fill="#111" stroke="#111" stroke-width="0.15" >G</text>
<line x1="310.40" y1="380.20" x2="310.40" y2="454.40" stroke="#2a2a2a" stroke-width="1.1"/>
<line x1="309.90" y1="453.90" x2="463.30" y2="453.90" stroke="#2a2a2a" stroke-width="1.2"/>
<line x1="307.20" y1="453.90" x2="310.40" y2="453.90" stroke="#2a2a2a" stroke-width="0.9"/>
<text x="304.50" y="456.10" font-size="6.4" text-anchor="end" font-weight="normal" fill="#333" stroke="#333" stroke-width="0.15" >0</text>
<line x1="309.10" y1="444.94" x2="310.40" y2="444.94" stroke="#2a2a2a" stroke-width="0.7"/>
<line x1="307.20" y1="435.97" x2="310.40" y2="435.97" stroke="#2a2a2a" stroke-width="0.9"/>
<text x="304.50" y="438.17" font-size="6.4" text-anchor="end" font-weight="normal" fill="#333" stroke="#333" stroke-width="0.15" >5000</text>
<line x1="309.10" y1="427.01" x2="310.40" y2="427.01" stroke="#2a2a2a" stroke-width="0.7"/>
<line x1="307.20" y1="418.05" x2="310.40" y2="418.05" stroke="#2a2a2a" stroke-width="0.9"/>
<text x="304.50" y="420.25" font-size="6.4" text-anchor="end" font-weight="normal" fill="#333" stroke="#333" stroke-width="0.15" >10000</text>
<line x1="309.10" y1="409.09" x2="310.40" y2="409.09" stroke="#2a2a2a" stroke-width="0.7"/>
<line x1="307.20" y1="400.12" x2="310.40" y2="400.12" stroke="#2a2a2a" stroke-width="0.9"/>
<text x="304.50" y="402.32" font-size="6.4" text-anchor="end" font-weight="normal" fill="#333" stroke="#333" stroke-width="0.15" >15000</text>
<line x1="309.10" y1="391.16" x2="310.40" y2="391.16" stroke="#2a2a2a" stroke-width="0.7"/>
<line x1="307.20" y1="382.20" x2="310.40" y2="382.20" stroke="#2a2a2a" stroke-width="0.9"/>
<text x="304.50" y="384.40" font-size="6.4" text-anchor="end" font-weight="normal" fill="#333" stroke="#333" stroke-width="0.15" >20000</text>
<line x1="333.50" y1="453.90" x2="333.50" y2="456.50" stroke="#2a2a2a" stroke-width="0.9"/>
<text x="333.50" y="464.90" font-size="5.8" text-anchor="middle" font-weight="normal" fill="#333" stroke="#333" stroke-width="0.15" >Scaffold</text>
<line x1="368.80" y1="453.90" x2="368.80" y2="456.50" stroke="#2a2a2a" stroke-width="0.9"/>
<text x="368.80" y="464.90" font-size="5.8" text-anchor="middle" font-weight="normal" fill="#333" stroke="#333" stroke-width="0.15" >M17</text>
<line x1="404.00" y1="453.90" x2="404.00" y2="456.50" stroke="#2a2a2a" stroke-width="0.9"/>
<text x="404.00" y="464.90" font-size="5.8" text-anchor="middle" font-weight="normal" fill="#333" stroke="#333" stroke-width="0.15" >D22</text>
<line x1="439.10" y1="453.90" x2="439.10" y2="456.50" stroke="#2a2a2a" stroke-width="0.9"/>
<text x="439.10" y="464.90" font-size="5.8" text-anchor="middle" font-weight="normal" fill="#333" stroke="#333" stroke-width="0.15" >D18</text>
<rect x="322.60" y="449.42" width="21.8" height="4.48" fill="#f2737c" stroke="#d8505c" stroke-width="0.5"/>
<line x1="333.50" y1="453.90" x2="333.50" y2="443.32" stroke="#333" stroke-width="0.8"/>
<line x1="328.50" y1="443.32" x2="338.50" y2="443.32" stroke="#333" stroke-width="0.8"/>
<rect x="332.15" y="438.71" width="2.70" height="2.70" fill="#c8143f"/>
<path d="M327.50 450.15L328.85 452.58L326.15 452.58Z" fill="#c8143f"/>
<path d="M333.50 450.15L334.85 452.58L332.15 452.58Z" fill="#c8143f"/>
<path d="M339.50 450.15L340.85 452.58L338.15 452.58Z" fill="#c8143f"/>
<rect x="357.90" y="445.22" width="21.8" height="8.68" fill="#7f9ac6" stroke="#5a78a8" stroke-width="0.5"/>
<line x1="368.80" y1="450.96" x2="368.80" y2="439.49" stroke="#333" stroke-width="0.8"/>
<line x1="363.80" y1="439.49" x2="373.80" y2="439.49" stroke="#333" stroke-width="0.8"/>
<line x1="363.80" y1="450.96" x2="373.80" y2="450.96" stroke="#333" stroke-width="0.8"/>
<circle cx="368.80" cy="436.98" r="1.35" fill="#1d3f73"/>
<circle cx="363.80" cy="448.02" r="1.35" fill="#1d3f73"/>
<circle cx="368.80" cy="446.73" r="1.35" fill="#1d3f73"/>
<circle cx="373.80" cy="448.02" r="1.35" fill="#1d3f73"/>
<rect x="393.10" y="449.02" width="21.8" height="4.88" fill="#90e290" stroke="#58c058" stroke-width="0.5"/>
<line x1="404.00" y1="452.43" x2="404.00" y2="445.62" stroke="#333" stroke-width="0.8"/>
<line x1="399.00" y1="445.62" x2="409.00" y2="445.62" stroke="#333" stroke-width="0.8"/>
<line x1="399.00" y1="452.43" x2="409.00" y2="452.43" stroke="#333" stroke-width="0.8"/>
<path d="M404.00 442.87L405.35 445.30L402.65 445.30Z" fill="#22a040"/>
<path d="M399.00 448.61L400.35 451.04L397.65 451.04Z" fill="#22a040"/>
<path d="M404.00 448.96L405.35 451.39L402.65 451.39Z" fill="#22a040"/>
<path d="M409.00 448.61L410.35 451.04L407.65 451.04Z" fill="#22a040"/>
<rect x="428.20" y="408.55" width="21.8" height="45.35" fill="#9a80b3" stroke="#7e62a0" stroke-width="0.5"/>
<line x1="439.10" y1="418.95" x2="439.10" y2="398.15" stroke="#333" stroke-width="0.8"/>
<line x1="434.10" y1="398.15" x2="444.10" y2="398.15" stroke="#333" stroke-width="0.8"/>
<line x1="434.10" y1="418.95" x2="444.10" y2="418.95" stroke="#333" stroke-width="0.8"/>
<circle cx="439.10" cy="395.64" r="1.35" fill="#2e1440"/>
<circle cx="439.10" cy="405.39" r="1.35" fill="#2e1440"/>
<circle cx="439.10" cy="410.88" r="1.35" fill="#2e1440"/>
<circle cx="439.10" cy="419.56" r="1.35" fill="#2e1440"/>
<path d="M333.50 366.50V356.00H439.10V390.80" fill="none" stroke="#3a3a3a" stroke-width="0.9"/>
<text x="386.20" y="355.80" font-size="5.4" text-anchor="middle" font-weight="normal" fill="#333" stroke="#333" stroke-width="0.15" >*</text>
<path d="M333.50 381.50V371.40H404.00V443.00" fill="none" stroke="#3a3a3a" stroke-width="0.9"/>
<text x="369.20" y="369.80" font-size="5.4" text-anchor="middle" font-weight="normal" fill="#333" stroke="#333" stroke-width="0.15" >ns</text>
<path d="M333.50 432.00V386.80H368.80V435.40" fill="none" stroke="#3a3a3a" stroke-width="0.9"/>
<text x="350.80" y="385.20" font-size="5.4" text-anchor="middle" font-weight="normal" fill="#333" stroke="#333" stroke-width="0.15" >ns</text>
<line x1="316.30" y1="469.80" x2="457.80" y2="469.80" stroke="#2a2a2a" stroke-width="0.9"/>
<text x="386.30" y="479.40" font-size="7.4" text-anchor="middle" font-weight="bold" fill="#333" stroke="#333" stroke-width="0.15" textLength="10.7" lengthAdjust="spacingAndGlyphs" >ADP</text>
<text transform="translate(282.10,416.70) rotate(-90)" x="0" y="0" font-size="6.8" text-anchor="middle" font-weight="bold" fill="#333" stroke="#333" stroke-width="0.15" textLength="15.8" lengthAdjust="spacingAndGlyphs">Δ MFI</text>
<text x="266.00" y="345.60" font-size="10.6" text-anchor="start" font-weight="bold" fill="#111" stroke="#111" stroke-width="0.15" >H</text>
<rect x="0.5" y="0.5" width="519" height="487" fill="none" stroke="#555" stroke-width="1"/>
</svg>
</body></html>
